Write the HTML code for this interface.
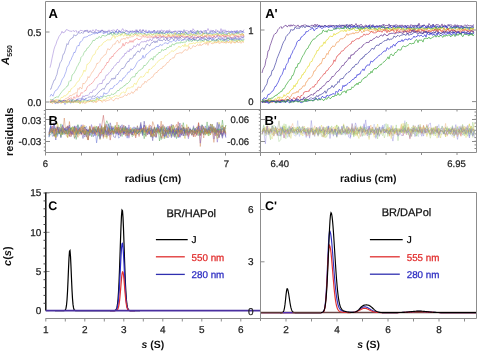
<!DOCTYPE html>
<html><head><meta charset="utf-8"><style>
html,body{margin:0;padding:0;background:#fff;}
body{width:478px;height:352px;overflow:hidden;}
svg{display:block;will-change:transform;}
text{font-family:"Liberation Sans",sans-serif;text-rendering:geometricPrecision;}
</style></head><body>
<svg width="478" height="352" viewBox="0 0 478 352">
<g fill="none" stroke="#8c8c8c" stroke-width="1">
<path d="M45.5,1.5H476.5V152.5H45.5Z"/>
<path d="M45.5,109.5H476.5"/>
<path d="M260.5,1.5V156"/>
<path d="M45.5,32H49.5M45.5,102H49.5"/>
<path d="M260.5,30H264.5M260.5,101.6H264.5"/>
<path d="M45.5,119.5H50M45.5,141.5H50"/>
<path d="M260.5,119.5H265M260.5,141.5H265M476.5,119.5H472M476.5,141.5H472M476.5,101.6H472M476.5,30H472"/>
<path d="M45.5,152.5V155.5M81.5,152.5V155.5M117.5,152.5V155.5M153.5,152.5V155.5M189.5,152.5V155.5M225.5,152.5V155.5"/>
<path d="M81.5,109.5V111.5M117.5,109.5V111.5M153.5,109.5V111.5M189.5,109.5V111.5M225.5,109.5V111.5"/>
<path d="M279.5,152.5V155M315.5,152.5V155M350.5,152.5V155M386.0,152.5V155M421.5,152.5V155M457.0,152.5V155"/>
<path d="M315.5,109.5V111.5M350.5,109.5V111.5M386.0,109.5V111.5M421.5,109.5V111.5M457.0,109.5V111.5"/>
</g>
<path d="M43.8,110.5H45.5M258.8,110.5H260.5M43.8,114.2H45.5M258.8,114.2H260.5M43.8,117.8H45.5M258.8,117.8H260.5M43.8,121.5H45.5M258.8,121.5H260.5M43.8,125.1H45.5M258.8,125.1H260.5M43.8,128.8H45.5M258.8,128.8H260.5M43.8,132.4H45.5M258.8,132.4H260.5M43.8,136.1H45.5M258.8,136.1H260.5M43.8,139.7H45.5M258.8,139.7H260.5M43.8,143.4H45.5M258.8,143.4H260.5M43.8,147.0H45.5M258.8,147.0H260.5M43.8,150.7H45.5M258.8,150.7H260.5" stroke="#8c8c8c" stroke-width="1" fill="none"/>
<path d="M474.5,112.0H476.5M474.5,115.7H476.5M474.5,119.3H476.5M474.5,123.0H476.5M474.5,126.6H476.5M474.5,130.3H476.5M474.5,133.9H476.5M474.5,137.6H476.5M474.5,141.2H476.5M474.5,144.9H476.5M474.5,148.5H476.5" stroke="#8c8c8c" stroke-width="1" fill="none"/>
<g><path d="M50.0,67.7 51.0,63.7 52.0,58.4 53.0,53.9 54.0,49.3 55.0,46.2 56.0,44.2 57.0,40.8 58.0,39.0 59.0,36.5 60.0,35.1 61.0,33.8 62.0,31.3 63.0,33.0 64.0,32.3 65.0,32.0 66.0,29.8 67.0,29.6 68.0,30.3 69.0,30.6 70.0,31.3 71.0,31.0 72.0,31.5 73.0,30.4 74.0,31.3 75.0,31.4 76.0,30.4 77.0,32.5 78.0,31.5 79.0,32.1 80.0,30.4 81.0,30.3 82.0,30.7 83.0,30.9 84.0,31.6 85.0,31.2 86.0,30.6 87.0,30.1 88.0,30.5 89.0,32.1 90.0,30.3 91.0,31.2 92.0,31.4 93.0,29.7 94.0,31.0 95.0,32.2 96.0,29.2 97.0,30.7 98.0,30.9 99.0,30.3 100.0,31.4 101.0,30.9 102.0,29.7 103.0,31.7 104.0,31.6 105.0,31.9 106.0,32.3 107.0,31.3 108.0,31.1 109.0,29.8 110.0,31.6 111.0,30.4 112.0,30.6 113.0,29.9 114.0,30.1 115.0,30.5 116.0,32.2 117.0,29.2 118.0,29.7 119.0,31.2 120.0,32.3 121.0,31.5 122.0,29.3 123.0,28.7 124.0,31.3 125.0,30.3 126.0,30.0 127.0,31.9 128.0,32.0 129.0,31.1 130.0,31.2 131.0,31.4 132.0,32.4 133.0,31.6 134.0,31.5 135.0,31.5 136.0,29.6 137.0,32.2 138.0,31.9 139.0,31.5 140.0,29.2 141.0,30.4 142.0,31.8 143.0,29.4 144.0,30.8 145.0,31.9 146.0,29.8 147.0,32.4 148.0,31.5 149.0,30.9 150.0,31.3 151.0,31.6 152.0,31.1 153.0,32.0 154.0,30.4 155.0,30.6 156.0,31.9 157.0,31.0 158.0,30.2 159.0,31.9 160.0,32.3 161.0,30.6 162.0,29.8 163.0,30.9 164.0,30.9 165.0,30.7 166.0,32.3 167.0,30.1 168.0,32.1 169.0,29.9 170.0,30.3 171.0,31.6 172.0,32.0 173.0,31.8 174.0,31.3 175.0,31.1 176.0,31.1 177.0,31.5 178.0,30.8 179.0,31.2 180.0,31.5 181.0,31.0 182.0,31.7 183.0,31.5 184.0,32.8 185.0,31.3 186.0,30.6 187.0,30.7 188.0,31.0 189.0,31.8 190.0,30.7 191.0,31.3 192.0,32.7 193.0,28.7 194.0,30.0 195.0,31.2 196.0,31.4 197.0,31.2 198.0,30.6 199.0,31.6 200.0,31.3 201.0,30.5 202.0,33.2 203.0,31.3 204.0,30.5 205.0,30.9 206.0,30.8 207.0,30.9 208.0,28.5 209.0,30.6 210.0,31.9 211.0,29.9 212.0,30.9 213.0,31.9 214.0,31.8 215.0,32.3 216.0,29.5 217.0,30.7 218.0,30.7 219.0,31.6 220.0,32.0 221.0,28.6 222.0,32.0 223.0,29.7 224.0,31.6 225.0,29.7 226.0,31.2 227.0,32.1 228.0,30.9 229.0,31.2 230.0,31.7 231.0,31.1 232.0,30.9 233.0,32.4 234.0,31.9 235.0,30.7 236.0,33.5 237.0,30.0 238.0,31.8 239.0,30.8 240.0,31.1 241.0,31.6 242.0,31.2 243.0,31.6 244.0,29.6" fill="none" stroke="#8a6ad0" stroke-opacity="0.55" stroke-width="0.85"/><path d="M50.0,89.2 51.0,89.1 52.0,85.5 53.0,83.1 54.0,80.2 55.0,79.9 56.0,76.6 57.0,74.3 58.0,69.2 59.0,67.0 60.0,62.9 61.0,61.6 62.0,59.4 63.0,54.4 64.0,53.9 65.0,50.8 66.0,47.4 67.0,43.6 68.0,44.7 69.0,41.5 70.0,39.5 71.0,39.0 72.0,37.8 73.0,37.8 74.0,34.6 75.0,35.8 76.0,35.5 77.0,35.0 78.0,33.1 79.0,32.3 80.0,33.6 81.0,32.6 82.0,32.5 83.0,33.5 84.0,31.9 85.0,30.0 86.0,31.7 87.0,30.4 88.0,32.7 89.0,32.3 90.0,31.4 91.0,32.0 92.0,32.7 93.0,32.0 94.0,33.1 95.0,31.9 96.0,32.9 97.0,33.3 98.0,33.4 99.0,31.3 100.0,32.7 101.0,30.3 102.0,31.0 103.0,30.2 104.0,32.9 105.0,30.8 106.0,31.9 107.0,31.8 108.0,31.9 109.0,31.4 110.0,32.2 111.0,33.6 112.0,32.0 113.0,32.4 114.0,32.9 115.0,31.8 116.0,30.8 117.0,31.5 118.0,32.9 119.0,30.5 120.0,31.4 121.0,32.9 122.0,32.7 123.0,32.0 124.0,32.7 125.0,32.1 126.0,30.9 127.0,30.5 128.0,31.4 129.0,32.8 130.0,31.4 131.0,31.1 132.0,31.3 133.0,30.6 134.0,31.8 135.0,30.9 136.0,32.3 137.0,29.8 138.0,32.2 139.0,31.4 140.0,30.2 141.0,32.6 142.0,31.7 143.0,29.9 144.0,31.2 145.0,32.2 146.0,31.5 147.0,32.7 148.0,32.6 149.0,32.5 150.0,32.2 151.0,33.2 152.0,32.5 153.0,32.4 154.0,30.1 155.0,32.8 156.0,33.1 157.0,31.7 158.0,31.5 159.0,33.7 160.0,30.4 161.0,32.4 162.0,34.1 163.0,31.1 164.0,32.6 165.0,33.6 166.0,31.8 167.0,32.5 168.0,32.8 169.0,31.1 170.0,31.9 171.0,32.2 172.0,32.7 173.0,31.9 174.0,31.8 175.0,31.0 176.0,31.6 177.0,32.8 178.0,32.0 179.0,31.2 180.0,31.2 181.0,34.4 182.0,33.0 183.0,32.5 184.0,29.6 185.0,32.5 186.0,32.4 187.0,33.5 188.0,32.3 189.0,31.9 190.0,32.4 191.0,30.2 192.0,32.9 193.0,32.2 194.0,31.3 195.0,33.1 196.0,33.6 197.0,30.7 198.0,31.4 199.0,32.2 200.0,32.1 201.0,31.6 202.0,31.1 203.0,33.9 204.0,32.9 205.0,30.9 206.0,30.7 207.0,33.5 208.0,32.8 209.0,33.6 210.0,32.7 211.0,31.2 212.0,32.2 213.0,30.0 214.0,31.3 215.0,31.9 216.0,32.4 217.0,31.3 218.0,31.8 219.0,32.4 220.0,32.3 221.0,32.5 222.0,32.1 223.0,31.7 224.0,32.7 225.0,32.0 226.0,31.2 227.0,31.4 228.0,31.9 229.0,31.9 230.0,32.1 231.0,31.9 232.0,32.1 233.0,31.8 234.0,30.8 235.0,32.3 236.0,32.9 237.0,32.3 238.0,31.8 239.0,32.4 240.0,31.1 241.0,30.2 242.0,32.0 243.0,31.1 244.0,32.6" fill="none" stroke="#5a5ab8" stroke-opacity="0.55" stroke-width="0.85"/><path d="M50.0,96.6 51.0,94.4 52.0,94.9 53.0,96.2 54.0,93.3 55.0,91.1 56.0,90.2 57.0,89.9 58.0,88.2 59.0,86.1 60.0,85.4 61.0,82.7 62.0,79.9 63.0,78.3 64.0,77.0 65.0,74.1 66.0,71.7 67.0,67.4 68.0,65.9 69.0,64.3 70.0,61.0 71.0,59.9 72.0,57.2 73.0,55.3 74.0,52.2 75.0,52.7 76.0,49.7 77.0,46.6 78.0,45.3 79.0,46.0 80.0,42.0 81.0,41.8 82.0,40.8 83.0,38.9 84.0,37.0 85.0,37.4 86.0,36.8 87.0,36.9 88.0,36.1 89.0,35.0 90.0,35.4 91.0,34.8 92.0,34.2 93.0,33.8 94.0,33.4 95.0,34.1 96.0,32.4 97.0,32.7 98.0,33.2 99.0,31.8 100.0,32.7 101.0,31.2 102.0,32.4 103.0,33.5 104.0,33.5 105.0,32.9 106.0,32.7 107.0,31.6 108.0,34.6 109.0,33.4 110.0,33.9 111.0,32.1 112.0,32.7 113.0,31.3 114.0,33.6 115.0,33.7 116.0,31.2 117.0,32.9 118.0,33.5 119.0,31.3 120.0,31.3 121.0,31.9 122.0,32.3 123.0,31.6 124.0,32.9 125.0,33.1 126.0,33.5 127.0,33.5 128.0,34.3 129.0,33.9 130.0,31.7 131.0,32.4 132.0,31.9 133.0,31.9 134.0,32.8 135.0,32.9 136.0,33.3 137.0,31.5 138.0,31.8 139.0,32.9 140.0,32.7 141.0,32.6 142.0,32.8 143.0,32.2 144.0,33.5 145.0,33.2 146.0,32.8 147.0,32.3 148.0,32.7 149.0,30.5 150.0,32.0 151.0,32.9 152.0,31.5 153.0,33.1 154.0,33.0 155.0,31.7 156.0,32.7 157.0,32.6 158.0,33.3 159.0,33.5 160.0,32.9 161.0,32.1 162.0,32.8 163.0,32.8 164.0,33.6 165.0,33.2 166.0,32.2 167.0,31.7 168.0,32.6 169.0,32.2 170.0,31.9 171.0,32.8 172.0,32.5 173.0,33.0 174.0,33.4 175.0,32.5 176.0,35.0 177.0,32.6 178.0,33.9 179.0,33.0 180.0,33.9 181.0,30.8 182.0,32.2 183.0,33.1 184.0,33.4 185.0,35.0 186.0,33.2 187.0,34.1 188.0,33.6 189.0,33.8 190.0,33.4 191.0,32.8 192.0,33.4 193.0,31.9 194.0,34.0 195.0,32.0 196.0,33.1 197.0,34.8 198.0,32.7 199.0,32.9 200.0,33.9 201.0,32.9 202.0,32.2 203.0,33.1 204.0,33.4 205.0,33.5 206.0,32.2 207.0,34.5 208.0,34.4 209.0,32.9 210.0,33.1 211.0,32.5 212.0,34.2 213.0,32.3 214.0,33.5 215.0,32.5 216.0,32.3 217.0,33.5 218.0,34.1 219.0,32.9 220.0,32.3 221.0,33.6 222.0,32.9 223.0,33.2 224.0,34.3 225.0,33.9 226.0,32.4 227.0,35.0 228.0,32.9 229.0,33.6 230.0,32.3 231.0,32.9 232.0,31.3 233.0,34.5 234.0,34.1 235.0,31.8 236.0,31.5 237.0,31.4 238.0,34.0 239.0,32.5 240.0,32.8 241.0,32.6 242.0,32.8 243.0,31.9 244.0,32.9" fill="none" stroke="#5a6ae8" stroke-opacity="0.55" stroke-width="0.85"/><path d="M50.0,99.0 51.0,99.9 52.0,99.8 53.0,99.6 54.0,98.5 55.0,97.3 56.0,97.7 57.0,96.4 58.0,97.5 59.0,95.9 60.0,94.2 61.0,92.9 62.0,91.6 63.0,90.2 64.0,89.5 65.0,88.7 66.0,87.5 67.0,86.0 68.0,85.8 69.0,81.6 70.0,80.5 71.0,81.1 72.0,75.1 73.0,74.4 74.0,73.1 75.0,71.1 76.0,69.3 77.0,66.7 78.0,65.3 79.0,63.0 80.0,61.7 81.0,57.4 82.0,56.4 83.0,55.4 84.0,52.7 85.0,51.0 86.0,50.9 87.0,48.2 88.0,48.0 89.0,46.7 90.0,45.0 91.0,44.1 92.0,42.4 93.0,40.2 94.0,40.6 95.0,40.2 96.0,38.5 97.0,38.2 98.0,38.4 99.0,36.4 100.0,37.3 101.0,38.0 102.0,35.4 103.0,35.7 104.0,35.2 105.0,36.5 106.0,35.2 107.0,35.5 108.0,33.9 109.0,34.4 110.0,34.3 111.0,32.6 112.0,35.5 113.0,34.9 114.0,32.5 115.0,34.7 116.0,33.9 117.0,34.4 118.0,34.3 119.0,32.6 120.0,33.7 121.0,35.2 122.0,33.4 123.0,33.0 124.0,32.6 125.0,32.8 126.0,34.2 127.0,35.4 128.0,34.2 129.0,34.1 130.0,35.9 131.0,33.4 132.0,33.2 133.0,34.3 134.0,34.3 135.0,32.9 136.0,32.8 137.0,34.1 138.0,34.1 139.0,32.7 140.0,33.7 141.0,33.4 142.0,34.3 143.0,33.7 144.0,33.8 145.0,33.5 146.0,34.8 147.0,35.1 148.0,33.5 149.0,34.6 150.0,33.2 151.0,33.9 152.0,34.5 153.0,35.2 154.0,33.5 155.0,33.8 156.0,34.0 157.0,32.5 158.0,33.9 159.0,33.2 160.0,34.2 161.0,32.8 162.0,32.1 163.0,33.9 164.0,34.1 165.0,33.4 166.0,34.6 167.0,33.6 168.0,33.3 169.0,34.3 170.0,32.4 171.0,33.2 172.0,33.8 173.0,34.6 174.0,33.7 175.0,34.1 176.0,33.3 177.0,34.1 178.0,35.3 179.0,33.2 180.0,36.0 181.0,33.3 182.0,33.9 183.0,34.0 184.0,34.8 185.0,32.7 186.0,32.0 187.0,34.4 188.0,34.6 189.0,34.4 190.0,36.2 191.0,34.0 192.0,34.1 193.0,34.7 194.0,34.2 195.0,35.3 196.0,32.7 197.0,33.5 198.0,30.7 199.0,34.6 200.0,33.5 201.0,34.7 202.0,35.8 203.0,33.8 204.0,33.6 205.0,33.4 206.0,33.1 207.0,33.3 208.0,34.4 209.0,33.9 210.0,33.9 211.0,33.7 212.0,34.7 213.0,34.3 214.0,33.7 215.0,34.4 216.0,33.7 217.0,32.8 218.0,35.2 219.0,34.3 220.0,33.0 221.0,34.8 222.0,34.2 223.0,32.4 224.0,35.3 225.0,34.2 226.0,34.7 227.0,34.0 228.0,33.7 229.0,32.5 230.0,34.7 231.0,33.9 232.0,33.6 233.0,34.2 234.0,33.9 235.0,34.5 236.0,33.5 237.0,33.8 238.0,31.9 239.0,33.5 240.0,34.5 241.0,35.1 242.0,33.5 243.0,33.7 244.0,35.3" fill="none" stroke="#60c060" stroke-opacity="0.55" stroke-width="0.85"/><path d="M50.0,101.0 51.0,101.8 52.0,102.5 53.0,100.8 54.0,101.7 55.0,99.7 56.0,100.3 57.0,99.7 58.0,99.6 59.0,100.1 60.0,100.8 61.0,97.6 62.0,97.2 63.0,97.5 64.0,95.5 65.0,96.2 66.0,95.6 67.0,94.0 68.0,93.8 69.0,91.0 70.0,92.1 71.0,88.9 72.0,88.6 73.0,87.5 74.0,86.3 75.0,86.1 76.0,84.0 77.0,82.2 78.0,81.5 79.0,80.9 80.0,77.9 81.0,76.5 82.0,75.7 83.0,73.1 84.0,70.0 85.0,71.7 86.0,69.7 87.0,64.2 88.0,64.2 89.0,63.0 90.0,61.8 91.0,59.9 92.0,57.4 93.0,55.2 94.0,54.7 95.0,54.1 96.0,50.7 97.0,49.4 98.0,49.1 99.0,46.1 100.0,46.5 101.0,45.2 102.0,45.0 103.0,43.0 104.0,42.0 105.0,41.6 106.0,41.1 107.0,39.9 108.0,39.8 109.0,39.9 110.0,39.8 111.0,39.8 112.0,37.1 113.0,37.0 114.0,34.8 115.0,38.5 116.0,35.8 117.0,36.2 118.0,36.5 119.0,34.6 120.0,36.1 121.0,35.5 122.0,33.8 123.0,35.6 124.0,36.3 125.0,33.5 126.0,35.8 127.0,35.2 128.0,35.4 129.0,35.4 130.0,36.1 131.0,34.7 132.0,35.7 133.0,34.5 134.0,35.5 135.0,34.1 136.0,34.7 137.0,36.4 138.0,35.2 139.0,34.7 140.0,33.8 141.0,34.1 142.0,35.0 143.0,35.7 144.0,35.2 145.0,35.3 146.0,34.8 147.0,36.0 148.0,34.5 149.0,34.3 150.0,35.6 151.0,34.9 152.0,34.5 153.0,34.3 154.0,34.6 155.0,35.4 156.0,35.1 157.0,33.7 158.0,35.2 159.0,35.0 160.0,33.9 161.0,35.5 162.0,34.5 163.0,34.5 164.0,35.5 165.0,36.0 166.0,34.2 167.0,35.2 168.0,34.0 169.0,36.9 170.0,34.4 171.0,35.9 172.0,34.2 173.0,35.5 174.0,36.8 175.0,32.5 176.0,34.4 177.0,35.3 178.0,34.7 179.0,34.2 180.0,36.7 181.0,34.9 182.0,33.3 183.0,35.6 184.0,33.3 185.0,35.8 186.0,34.3 187.0,34.9 188.0,35.9 189.0,34.9 190.0,33.5 191.0,33.3 192.0,35.9 193.0,35.5 194.0,34.1 195.0,35.6 196.0,35.2 197.0,35.4 198.0,32.8 199.0,34.5 200.0,35.6 201.0,35.5 202.0,35.6 203.0,32.6 204.0,35.0 205.0,35.2 206.0,37.1 207.0,33.9 208.0,34.5 209.0,34.8 210.0,35.6 211.0,34.4 212.0,35.8 213.0,34.1 214.0,35.0 215.0,34.3 216.0,34.9 217.0,34.2 218.0,33.4 219.0,35.8 220.0,35.1 221.0,34.3 222.0,35.0 223.0,35.7 224.0,33.9 225.0,34.7 226.0,35.3 227.0,35.3 228.0,34.5 229.0,32.9 230.0,35.9 231.0,35.1 232.0,34.8 233.0,34.5 234.0,35.0 235.0,34.4 236.0,33.9 237.0,34.1 238.0,34.3 239.0,34.2 240.0,33.8 241.0,35.4 242.0,33.6 243.0,35.4 244.0,33.9" fill="none" stroke="#f0e050" stroke-opacity="0.55" stroke-width="0.85"/><path d="M50.0,102.0 51.0,102.8 52.0,101.7 53.0,100.8 54.0,101.4 55.0,101.4 56.0,99.6 57.0,100.4 58.0,101.0 59.0,100.2 60.0,100.5 61.0,100.9 62.0,100.7 63.0,100.5 64.0,99.9 65.0,98.8 66.0,98.7 67.0,98.0 68.0,97.5 69.0,97.2 70.0,95.2 71.0,95.9 72.0,95.6 73.0,94.0 74.0,94.1 75.0,93.8 76.0,92.4 77.0,93.5 78.0,88.4 79.0,89.5 80.0,87.0 81.0,88.4 82.0,88.8 83.0,83.0 84.0,84.1 85.0,83.1 86.0,81.1 87.0,80.5 88.0,76.5 89.0,77.9 90.0,76.0 91.0,74.2 92.0,72.1 93.0,71.7 94.0,69.2 95.0,68.3 96.0,66.1 97.0,63.1 98.0,63.5 99.0,62.3 100.0,61.3 101.0,58.4 102.0,57.8 103.0,57.0 104.0,55.2 105.0,54.9 106.0,54.3 107.0,50.5 108.0,48.5 109.0,49.9 110.0,49.4 111.0,47.9 112.0,46.8 113.0,44.7 114.0,43.7 115.0,44.4 116.0,42.0 117.0,40.5 118.0,40.6 119.0,43.2 120.0,42.2 121.0,39.3 122.0,38.8 123.0,39.3 124.0,38.0 125.0,39.5 126.0,38.0 127.0,36.8 128.0,38.7 129.0,36.8 130.0,37.3 131.0,36.9 132.0,36.5 133.0,36.9 134.0,35.9 135.0,34.7 136.0,34.3 137.0,35.1 138.0,35.5 139.0,36.1 140.0,36.1 141.0,36.5 142.0,36.1 143.0,35.2 144.0,35.3 145.0,34.0 146.0,35.7 147.0,36.3 148.0,36.3 149.0,35.7 150.0,35.6 151.0,36.6 152.0,35.8 153.0,36.4 154.0,36.3 155.0,36.0 156.0,36.9 157.0,35.2 158.0,35.4 159.0,35.0 160.0,35.0 161.0,37.2 162.0,37.3 163.0,35.8 164.0,36.3 165.0,36.8 166.0,36.5 167.0,36.8 168.0,34.6 169.0,35.2 170.0,36.2 171.0,37.0 172.0,35.8 173.0,35.0 174.0,35.4 175.0,35.2 176.0,35.0 177.0,37.1 178.0,35.2 179.0,35.8 180.0,37.7 181.0,36.8 182.0,36.1 183.0,35.2 184.0,36.1 185.0,37.2 186.0,36.3 187.0,36.9 188.0,35.8 189.0,36.2 190.0,35.6 191.0,36.1 192.0,36.9 193.0,34.5 194.0,35.7 195.0,36.0 196.0,35.2 197.0,35.5 198.0,36.5 199.0,37.6 200.0,36.3 201.0,36.0 202.0,34.4 203.0,37.5 204.0,35.8 205.0,35.7 206.0,34.7 207.0,35.7 208.0,34.8 209.0,35.8 210.0,36.2 211.0,35.8 212.0,36.0 213.0,35.0 214.0,37.0 215.0,35.2 216.0,34.1 217.0,35.6 218.0,35.1 219.0,34.8 220.0,35.4 221.0,36.0 222.0,34.7 223.0,35.6 224.0,37.0 225.0,36.4 226.0,35.6 227.0,35.9 228.0,35.6 229.0,35.7 230.0,36.4 231.0,35.7 232.0,33.6 233.0,35.7 234.0,34.9 235.0,36.3 236.0,35.2 237.0,35.9 238.0,37.7 239.0,34.8 240.0,34.7 241.0,34.5 242.0,33.6 243.0,34.1 244.0,36.1" fill="none" stroke="#f5a070" stroke-opacity="0.55" stroke-width="0.85"/><path d="M50.0,101.2 51.0,100.1 52.0,100.4 53.0,102.3 54.0,101.0 55.0,101.3 56.0,101.8 57.0,102.7 58.0,103.1 59.0,102.2 60.0,101.3 61.0,101.2 62.0,102.6 63.0,102.1 64.0,100.3 65.0,100.9 66.0,100.5 67.0,100.1 68.0,99.3 69.0,98.3 70.0,98.7 71.0,97.5 72.0,99.6 73.0,98.6 74.0,96.6 75.0,98.5 76.0,97.5 77.0,94.5 78.0,97.3 79.0,95.7 80.0,96.2 81.0,92.5 82.0,93.4 83.0,92.5 84.0,91.5 85.0,90.6 86.0,90.4 87.0,87.2 88.0,86.4 89.0,85.2 90.0,84.9 91.0,83.7 92.0,83.4 93.0,82.1 94.0,80.7 95.0,78.8 96.0,77.7 97.0,77.7 98.0,76.2 99.0,74.2 100.0,72.5 101.0,72.8 102.0,69.5 103.0,69.2 104.0,68.3 105.0,65.7 106.0,65.3 107.0,62.2 108.0,62.8 109.0,60.8 110.0,57.9 111.0,58.6 112.0,56.0 113.0,56.8 114.0,53.8 115.0,53.2 116.0,52.5 117.0,50.9 118.0,50.4 119.0,48.7 120.0,48.9 121.0,47.4 122.0,46.8 123.0,43.3 124.0,46.1 125.0,44.4 126.0,42.1 127.0,43.2 128.0,42.9 129.0,42.9 130.0,40.5 131.0,42.4 132.0,40.5 133.0,42.4 134.0,39.7 135.0,40.1 136.0,38.9 137.0,37.9 138.0,39.7 139.0,39.3 140.0,39.6 141.0,38.8 142.0,37.4 143.0,36.3 144.0,37.0 145.0,36.9 146.0,36.7 147.0,37.8 148.0,37.5 149.0,36.9 150.0,37.3 151.0,36.9 152.0,37.2 153.0,37.6 154.0,37.8 155.0,36.3 156.0,35.5 157.0,38.1 158.0,36.9 159.0,37.8 160.0,35.3 161.0,36.5 162.0,36.8 163.0,35.4 164.0,36.3 165.0,37.4 166.0,37.7 167.0,38.2 168.0,35.9 169.0,35.5 170.0,37.2 171.0,37.6 172.0,36.9 173.0,35.5 174.0,37.4 175.0,37.4 176.0,37.2 177.0,36.3 178.0,37.0 179.0,37.4 180.0,36.2 181.0,35.0 182.0,37.0 183.0,37.1 184.0,36.7 185.0,37.5 186.0,36.2 187.0,36.6 188.0,36.4 189.0,37.2 190.0,38.1 191.0,36.5 192.0,38.5 193.0,38.1 194.0,37.4 195.0,37.2 196.0,38.3 197.0,36.5 198.0,36.6 199.0,35.7 200.0,37.1 201.0,37.9 202.0,37.2 203.0,37.1 204.0,36.5 205.0,36.9 206.0,35.4 207.0,37.6 208.0,36.3 209.0,35.7 210.0,36.0 211.0,36.0 212.0,37.5 213.0,37.7 214.0,35.5 215.0,37.5 216.0,37.5 217.0,36.2 218.0,35.4 219.0,36.0 220.0,36.1 221.0,37.0 222.0,36.4 223.0,34.9 224.0,36.9 225.0,35.3 226.0,37.5 227.0,35.6 228.0,36.1 229.0,35.9 230.0,36.2 231.0,37.9 232.0,37.5 233.0,37.2 234.0,37.0 235.0,35.3 236.0,36.2 237.0,36.2 238.0,35.8 239.0,37.2 240.0,36.0 241.0,36.1 242.0,35.8 243.0,34.8 244.0,37.2" fill="none" stroke="#f06868" stroke-opacity="0.55" stroke-width="0.85"/><path d="M50.0,103.1 51.0,102.1 52.0,101.0 53.0,99.4 54.0,102.0 55.0,102.9 56.0,102.1 57.0,102.6 58.0,103.1 59.0,102.7 60.0,101.2 61.0,102.5 62.0,102.2 63.0,100.1 64.0,101.0 65.0,100.0 66.0,101.1 67.0,101.6 68.0,100.0 69.0,99.0 70.0,101.9 71.0,100.9 72.0,101.7 73.0,99.0 74.0,100.9 75.0,101.6 76.0,101.2 77.0,99.0 78.0,99.1 79.0,98.4 80.0,99.0 81.0,98.7 82.0,97.4 83.0,95.7 84.0,97.1 85.0,95.5 86.0,95.9 87.0,95.0 88.0,95.6 89.0,94.5 90.0,92.4 91.0,92.3 92.0,92.9 93.0,90.0 94.0,90.0 95.0,89.8 96.0,88.9 97.0,87.3 98.0,84.7 99.0,83.7 100.0,84.0 101.0,83.1 102.0,83.9 103.0,79.7 104.0,80.3 105.0,78.8 106.0,75.4 107.0,75.0 108.0,74.6 109.0,72.8 110.0,71.8 111.0,71.1 112.0,68.7 113.0,68.6 114.0,66.4 115.0,65.2 116.0,64.9 117.0,62.7 118.0,62.3 119.0,62.3 120.0,59.7 121.0,58.4 122.0,58.0 123.0,56.0 124.0,56.2 125.0,53.0 126.0,53.7 127.0,51.8 128.0,50.6 129.0,52.0 130.0,48.8 131.0,50.3 132.0,48.5 133.0,48.5 134.0,45.6 135.0,46.9 136.0,46.5 137.0,44.4 138.0,43.9 139.0,45.7 140.0,43.1 141.0,42.1 142.0,41.5 143.0,42.1 144.0,41.6 145.0,41.1 146.0,42.2 147.0,40.0 148.0,40.5 149.0,41.1 150.0,38.7 151.0,40.3 152.0,40.8 153.0,37.8 154.0,37.9 155.0,37.8 156.0,36.9 157.0,38.9 158.0,36.7 159.0,38.8 160.0,39.5 161.0,36.7 162.0,37.8 163.0,36.3 164.0,38.7 165.0,37.3 166.0,37.7 167.0,37.9 168.0,38.3 169.0,37.5 170.0,37.8 171.0,37.3 172.0,37.9 173.0,36.7 174.0,37.8 175.0,36.0 176.0,37.3 177.0,39.4 178.0,37.8 179.0,36.5 180.0,37.9 181.0,36.8 182.0,36.2 183.0,37.0 184.0,38.3 185.0,38.0 186.0,37.6 187.0,36.8 188.0,36.7 189.0,38.9 190.0,37.9 191.0,36.8 192.0,35.8 193.0,36.4 194.0,39.9 195.0,36.6 196.0,37.6 197.0,37.8 198.0,37.5 199.0,37.4 200.0,36.4 201.0,36.7 202.0,39.2 203.0,37.0 204.0,38.4 205.0,36.1 206.0,37.4 207.0,37.9 208.0,38.6 209.0,36.6 210.0,38.2 211.0,38.0 212.0,37.0 213.0,38.1 214.0,36.8 215.0,36.9 216.0,37.6 217.0,35.2 218.0,37.6 219.0,36.7 220.0,36.3 221.0,37.3 222.0,38.3 223.0,37.3 224.0,38.8 225.0,36.6 226.0,36.5 227.0,39.0 228.0,38.0 229.0,38.5 230.0,36.9 231.0,38.4 232.0,37.9 233.0,38.2 234.0,37.7 235.0,38.7 236.0,37.1 237.0,36.8 238.0,36.3 239.0,38.7 240.0,37.0 241.0,36.7 242.0,36.8 243.0,37.2 244.0,36.5" fill="none" stroke="#8a6ad0" stroke-opacity="0.55" stroke-width="0.85"/><path d="M50.0,101.7 51.0,101.4 52.0,101.5 53.0,101.1 54.0,102.0 55.0,101.5 56.0,102.0 57.0,102.1 58.0,102.2 59.0,99.9 60.0,101.4 61.0,101.1 62.0,102.5 63.0,100.3 64.0,101.1 65.0,101.4 66.0,101.3 67.0,102.5 68.0,101.1 69.0,102.3 70.0,100.1 71.0,99.7 72.0,102.3 73.0,101.5 74.0,101.4 75.0,101.0 76.0,101.2 77.0,99.5 78.0,101.3 79.0,99.8 80.0,101.0 81.0,99.9 82.0,97.9 83.0,98.2 84.0,100.1 85.0,98.7 86.0,98.2 87.0,98.4 88.0,97.4 89.0,96.9 90.0,97.1 91.0,96.7 92.0,97.5 93.0,95.6 94.0,96.7 95.0,96.1 96.0,95.4 97.0,94.2 98.0,92.7 99.0,92.0 100.0,91.0 101.0,89.8 102.0,89.6 103.0,88.2 104.0,89.4 105.0,87.5 106.0,85.7 107.0,83.5 108.0,84.2 109.0,82.9 110.0,81.2 111.0,80.1 112.0,78.1 113.0,79.5 114.0,77.8 115.0,79.1 116.0,75.6 117.0,74.4 118.0,74.6 119.0,72.3 120.0,71.2 121.0,69.5 122.0,68.1 123.0,68.9 124.0,67.2 125.0,66.7 126.0,63.7 127.0,63.0 128.0,61.0 129.0,61.6 130.0,58.4 131.0,59.1 132.0,58.6 133.0,57.8 134.0,54.7 135.0,55.6 136.0,53.1 137.0,52.1 138.0,50.8 139.0,52.2 140.0,51.8 141.0,49.0 142.0,48.2 143.0,47.8 144.0,49.7 145.0,47.7 146.0,45.7 147.0,44.0 148.0,44.5 149.0,45.7 150.0,45.8 151.0,43.4 152.0,42.6 153.0,42.4 154.0,40.8 155.0,43.0 156.0,40.9 157.0,42.5 158.0,39.7 159.0,39.9 160.0,41.0 161.0,39.9 162.0,41.1 163.0,40.2 164.0,39.0 165.0,40.4 166.0,40.5 167.0,37.9 168.0,41.1 169.0,39.9 170.0,40.0 171.0,37.6 172.0,38.5 173.0,38.8 174.0,40.0 175.0,37.7 176.0,38.1 177.0,37.1 178.0,38.6 179.0,39.1 180.0,37.3 181.0,38.2 182.0,39.2 183.0,40.2 184.0,39.3 185.0,38.4 186.0,37.6 187.0,37.8 188.0,38.1 189.0,38.8 190.0,38.6 191.0,40.1 192.0,38.9 193.0,37.7 194.0,40.0 195.0,39.5 196.0,38.7 197.0,38.0 198.0,36.9 199.0,37.7 200.0,39.4 201.0,37.9 202.0,37.4 203.0,38.8 204.0,38.8 205.0,39.1 206.0,39.2 207.0,39.9 208.0,37.8 209.0,39.5 210.0,37.7 211.0,39.2 212.0,38.8 213.0,38.8 214.0,39.5 215.0,38.6 216.0,39.6 217.0,39.4 218.0,38.7 219.0,38.1 220.0,37.9 221.0,38.1 222.0,38.4 223.0,38.6 224.0,41.3 225.0,39.2 226.0,39.3 227.0,37.8 228.0,38.0 229.0,38.3 230.0,38.8 231.0,37.7 232.0,40.1 233.0,38.1 234.0,39.6 235.0,36.5 236.0,38.6 237.0,38.9 238.0,38.8 239.0,39.1 240.0,38.9 241.0,38.7 242.0,36.9 243.0,38.0 244.0,36.5" fill="none" stroke="#5a5ab8" stroke-opacity="0.55" stroke-width="0.85"/><path d="M50.0,102.6 51.0,102.3 52.0,101.8 53.0,101.2 54.0,101.4 55.0,103.6 56.0,103.5 57.0,101.9 58.0,103.1 59.0,100.5 60.0,100.2 61.0,101.5 62.0,101.1 63.0,101.4 64.0,102.0 65.0,104.6 66.0,101.2 67.0,101.9 68.0,102.0 69.0,101.7 70.0,102.6 71.0,103.3 72.0,100.5 73.0,101.8 74.0,101.3 75.0,101.8 76.0,100.1 77.0,99.8 78.0,99.2 79.0,101.7 80.0,101.3 81.0,101.1 82.0,98.8 83.0,100.4 84.0,99.9 85.0,99.2 86.0,99.5 87.0,100.8 88.0,100.4 89.0,99.7 90.0,100.0 91.0,98.7 92.0,99.0 93.0,98.7 94.0,98.9 95.0,98.0 96.0,97.6 97.0,97.2 98.0,96.4 99.0,98.5 100.0,96.5 101.0,96.0 102.0,97.1 103.0,95.8 104.0,92.6 105.0,94.0 106.0,93.5 107.0,93.8 108.0,92.6 109.0,91.4 110.0,88.9 111.0,88.5 112.0,88.7 113.0,88.1 114.0,85.9 115.0,85.6 116.0,84.6 117.0,84.1 118.0,83.4 119.0,81.9 120.0,80.1 121.0,81.3 122.0,80.6 123.0,78.0 124.0,78.0 125.0,76.4 126.0,75.5 127.0,74.3 128.0,72.1 129.0,72.2 130.0,71.5 131.0,68.7 132.0,70.1 133.0,69.2 134.0,67.8 135.0,66.9 136.0,64.7 137.0,62.7 138.0,61.4 139.0,60.2 140.0,60.1 141.0,59.0 142.0,58.6 143.0,55.3 144.0,58.3 145.0,57.3 146.0,54.4 147.0,54.2 148.0,53.2 149.0,52.2 150.0,51.1 151.0,50.4 152.0,49.1 153.0,49.3 154.0,48.5 155.0,48.2 156.0,46.6 157.0,46.8 158.0,46.3 159.0,46.3 160.0,44.4 161.0,45.2 162.0,45.3 163.0,44.6 164.0,43.4 165.0,42.9 166.0,42.8 167.0,43.4 168.0,43.9 169.0,42.1 170.0,41.4 171.0,42.1 172.0,41.7 173.0,40.5 174.0,40.5 175.0,40.9 176.0,41.5 177.0,39.7 178.0,39.7 179.0,41.0 180.0,39.3 181.0,40.4 182.0,40.5 183.0,40.1 184.0,39.2 185.0,40.0 186.0,39.7 187.0,40.2 188.0,39.1 189.0,40.8 190.0,38.3 191.0,39.6 192.0,39.8 193.0,40.6 194.0,39.2 195.0,40.2 196.0,39.2 197.0,40.3 198.0,41.2 199.0,39.3 200.0,40.0 201.0,38.8 202.0,40.5 203.0,40.7 204.0,39.6 205.0,38.6 206.0,39.9 207.0,40.6 208.0,40.5 209.0,40.3 210.0,37.9 211.0,38.9 212.0,40.8 213.0,38.5 214.0,40.6 215.0,41.2 216.0,40.2 217.0,40.6 218.0,39.3 219.0,38.4 220.0,39.5 221.0,39.4 222.0,39.5 223.0,40.2 224.0,39.4 225.0,39.7 226.0,39.9 227.0,39.5 228.0,41.2 229.0,39.9 230.0,39.6 231.0,39.4 232.0,39.0 233.0,40.8 234.0,39.7 235.0,38.6 236.0,39.0 237.0,39.4 238.0,39.1 239.0,40.5 240.0,38.5 241.0,40.0 242.0,39.7 243.0,38.5 244.0,39.6" fill="none" stroke="#5a6ae8" stroke-opacity="0.55" stroke-width="0.85"/><path d="M50.0,101.9 51.0,102.4 52.0,101.6 53.0,102.3 54.0,100.5 55.0,101.0 56.0,102.7 57.0,102.9 58.0,102.0 59.0,101.4 60.0,102.9 61.0,100.1 62.0,101.2 63.0,102.6 64.0,102.5 65.0,101.0 66.0,100.2 67.0,103.2 68.0,102.1 69.0,101.1 70.0,101.9 71.0,102.7 72.0,99.5 73.0,102.8 74.0,102.5 75.0,99.9 76.0,102.5 77.0,100.1 78.0,102.7 79.0,102.0 80.0,103.6 81.0,101.0 82.0,101.5 83.0,102.4 84.0,100.8 85.0,100.7 86.0,100.9 87.0,101.1 88.0,100.1 89.0,101.4 90.0,101.3 91.0,100.8 92.0,102.1 93.0,100.1 94.0,101.4 95.0,99.6 96.0,100.5 97.0,97.9 98.0,99.6 99.0,99.0 100.0,98.5 101.0,98.1 102.0,98.0 103.0,97.4 104.0,95.7 105.0,96.8 106.0,96.5 107.0,96.1 108.0,95.2 109.0,95.6 110.0,95.9 111.0,94.5 112.0,93.7 113.0,94.8 114.0,93.9 115.0,93.3 116.0,92.8 117.0,90.9 118.0,90.3 119.0,90.7 120.0,88.5 121.0,88.1 122.0,87.8 123.0,87.0 124.0,85.6 125.0,85.8 126.0,83.9 127.0,83.8 128.0,83.2 129.0,81.9 130.0,81.0 131.0,78.3 132.0,77.2 133.0,76.8 134.0,76.8 135.0,76.7 136.0,73.2 137.0,73.6 138.0,71.5 139.0,70.6 140.0,70.0 141.0,69.8 142.0,68.3 143.0,68.2 144.0,65.2 145.0,65.9 146.0,64.9 147.0,63.2 148.0,62.6 149.0,60.7 150.0,59.3 151.0,59.0 152.0,57.9 153.0,60.2 154.0,56.3 155.0,57.3 156.0,55.2 157.0,54.5 158.0,54.2 159.0,52.1 160.0,52.9 161.0,51.7 162.0,49.3 163.0,50.6 164.0,50.0 165.0,49.3 166.0,49.7 167.0,47.4 168.0,47.8 169.0,47.5 170.0,45.6 171.0,47.0 172.0,44.2 173.0,44.0 174.0,45.3 175.0,43.5 176.0,44.0 177.0,42.4 178.0,43.6 179.0,42.3 180.0,43.4 181.0,41.5 182.0,43.0 183.0,42.2 184.0,42.3 185.0,42.0 186.0,42.1 187.0,40.6 188.0,39.4 189.0,41.6 190.0,40.6 191.0,41.0 192.0,41.7 193.0,39.4 194.0,40.4 195.0,40.5 196.0,40.0 197.0,41.2 198.0,40.8 199.0,40.1 200.0,39.9 201.0,41.5 202.0,40.1 203.0,41.2 204.0,41.1 205.0,39.0 206.0,39.7 207.0,40.6 208.0,40.9 209.0,41.3 210.0,41.3 211.0,41.5 212.0,40.2 213.0,40.4 214.0,41.2 215.0,40.2 216.0,41.5 217.0,39.1 218.0,41.1 219.0,40.4 220.0,38.7 221.0,41.4 222.0,40.8 223.0,40.5 224.0,39.5 225.0,40.1 226.0,41.9 227.0,39.8 228.0,37.4 229.0,39.7 230.0,39.4 231.0,40.4 232.0,40.1 233.0,39.7 234.0,39.7 235.0,41.4 236.0,39.2 237.0,42.3 238.0,40.0 239.0,39.5 240.0,41.2 241.0,41.0 242.0,39.6 243.0,41.2 244.0,38.8" fill="none" stroke="#60c060" stroke-opacity="0.55" stroke-width="0.85"/><path d="M50.0,101.2 51.0,103.0 52.0,101.8 53.0,100.8 54.0,102.5 55.0,102.8 56.0,102.0 57.0,100.4 58.0,101.7 59.0,102.4 60.0,102.7 61.0,103.7 62.0,101.8 63.0,101.5 64.0,101.9 65.0,103.1 66.0,101.1 67.0,103.1 68.0,99.5 69.0,102.7 70.0,101.3 71.0,102.4 72.0,102.6 73.0,100.9 74.0,101.8 75.0,102.1 76.0,102.4 77.0,101.0 78.0,101.0 79.0,100.1 80.0,104.1 81.0,101.6 82.0,101.6 83.0,100.4 84.0,102.6 85.0,101.2 86.0,102.9 87.0,102.4 88.0,101.6 89.0,102.2 90.0,100.5 91.0,101.1 92.0,100.8 93.0,100.1 94.0,101.2 95.0,100.9 96.0,102.3 97.0,97.8 98.0,100.1 99.0,99.8 100.0,100.1 101.0,100.7 102.0,100.5 103.0,100.0 104.0,99.4 105.0,100.0 106.0,99.7 107.0,97.5 108.0,98.6 109.0,97.4 110.0,97.2 111.0,98.1 112.0,97.7 113.0,97.4 114.0,96.2 115.0,96.4 116.0,95.3 117.0,96.1 118.0,95.9 119.0,96.3 120.0,95.4 121.0,93.0 122.0,92.8 123.0,91.8 124.0,92.3 125.0,93.2 126.0,91.4 127.0,88.1 128.0,88.2 129.0,87.5 130.0,88.3 131.0,87.1 132.0,86.6 133.0,87.1 134.0,83.9 135.0,83.1 136.0,84.7 137.0,82.4 138.0,80.5 139.0,78.4 140.0,77.9 141.0,76.2 142.0,77.5 143.0,76.5 144.0,76.4 145.0,74.4 146.0,72.9 147.0,71.8 148.0,73.2 149.0,69.0 150.0,69.7 151.0,68.6 152.0,68.2 153.0,66.3 154.0,66.1 155.0,65.4 156.0,63.6 157.0,62.4 158.0,61.8 159.0,60.2 160.0,60.0 161.0,59.0 162.0,58.6 163.0,58.8 164.0,58.0 165.0,55.6 166.0,55.8 167.0,54.8 168.0,54.5 169.0,53.2 170.0,52.7 171.0,51.4 172.0,50.5 173.0,51.4 174.0,51.2 175.0,50.1 176.0,49.4 177.0,48.7 178.0,47.6 179.0,46.0 180.0,47.7 181.0,46.9 182.0,45.9 183.0,45.1 184.0,46.8 185.0,43.7 186.0,46.6 187.0,45.3 188.0,46.6 189.0,43.6 190.0,44.0 191.0,43.3 192.0,43.7 193.0,43.2 194.0,42.6 195.0,44.0 196.0,42.2 197.0,42.3 198.0,43.2 199.0,42.1 200.0,42.1 201.0,42.7 202.0,41.9 203.0,41.1 204.0,42.0 205.0,41.8 206.0,43.5 207.0,40.9 208.0,42.7 209.0,41.1 210.0,41.5 211.0,41.5 212.0,42.0 213.0,42.5 214.0,43.2 215.0,41.1 216.0,42.8 217.0,42.5 218.0,42.3 219.0,40.9 220.0,42.4 221.0,41.4 222.0,41.8 223.0,41.3 224.0,42.1 225.0,42.5 226.0,42.5 227.0,41.3 228.0,42.4 229.0,42.8 230.0,40.6 231.0,42.8 232.0,40.3 233.0,42.0 234.0,42.0 235.0,42.8 236.0,41.7 237.0,41.0 238.0,40.7 239.0,40.3 240.0,42.1 241.0,41.2 242.0,40.8 243.0,41.9 244.0,40.8" fill="none" stroke="#f0e050" stroke-opacity="0.55" stroke-width="0.85"/><path d="M50.0,101.6 51.0,101.6 52.0,103.5 53.0,103.3 54.0,101.9 55.0,100.6 56.0,102.2 57.0,102.1 58.0,102.3 59.0,102.5 60.0,101.7 61.0,102.8 62.0,102.7 63.0,102.2 64.0,101.6 65.0,101.6 66.0,102.6 67.0,101.0 68.0,101.8 69.0,101.3 70.0,100.7 71.0,102.5 72.0,102.0 73.0,102.0 74.0,102.8 75.0,100.6 76.0,101.9 77.0,102.2 78.0,102.7 79.0,101.0 80.0,102.6 81.0,102.1 82.0,103.1 83.0,102.9 84.0,102.4 85.0,103.8 86.0,101.9 87.0,101.5 88.0,101.5 89.0,100.9 90.0,101.7 91.0,100.0 92.0,101.6 93.0,102.1 94.0,102.5 95.0,101.3 96.0,102.8 97.0,100.9 98.0,101.3 99.0,99.7 100.0,100.6 101.0,100.5 102.0,102.4 103.0,101.5 104.0,100.0 105.0,101.3 106.0,101.1 107.0,100.4 108.0,100.5 109.0,100.0 110.0,99.7 111.0,98.4 112.0,99.7 113.0,100.7 114.0,100.6 115.0,98.9 116.0,98.2 117.0,98.4 118.0,99.1 119.0,98.3 120.0,97.2 121.0,97.7 122.0,96.8 123.0,97.1 124.0,95.9 125.0,94.5 126.0,95.4 127.0,95.6 128.0,93.5 129.0,93.8 130.0,94.2 131.0,92.5 132.0,91.7 133.0,93.5 134.0,91.8 135.0,91.3 136.0,88.9 137.0,90.5 138.0,86.9 139.0,87.2 140.0,87.5 141.0,87.3 142.0,84.5 143.0,83.9 144.0,83.8 145.0,81.1 146.0,82.5 147.0,81.6 148.0,79.8 149.0,79.8 150.0,79.1 151.0,77.7 152.0,77.0 153.0,76.9 154.0,74.2 155.0,73.9 156.0,72.3 157.0,72.7 158.0,70.5 159.0,70.3 160.0,69.1 161.0,68.1 162.0,68.6 163.0,66.1 164.0,66.5 165.0,65.1 166.0,64.6 167.0,62.5 168.0,62.5 169.0,61.6 170.0,59.5 171.0,59.5 172.0,58.3 173.0,57.6 174.0,58.1 175.0,55.6 176.0,54.0 177.0,53.3 178.0,53.7 179.0,52.9 180.0,52.8 181.0,52.7 182.0,53.2 183.0,51.4 184.0,51.0 185.0,49.4 186.0,50.1 187.0,50.3 188.0,49.8 189.0,46.5 190.0,48.6 191.0,48.8 192.0,47.8 193.0,45.5 194.0,46.2 195.0,46.6 196.0,46.2 197.0,44.9 198.0,44.6 199.0,45.9 200.0,43.7 201.0,45.9 202.0,44.5 203.0,44.6 204.0,43.0 205.0,43.5 206.0,44.4 207.0,42.4 208.0,45.4 209.0,42.3 210.0,42.3 211.0,43.3 212.0,43.6 213.0,43.8 214.0,42.7 215.0,42.8 216.0,42.7 217.0,42.4 218.0,40.6 219.0,43.6 220.0,43.0 221.0,42.8 222.0,42.1 223.0,42.9 224.0,42.6 225.0,42.5 226.0,43.5 227.0,41.1 228.0,42.7 229.0,41.6 230.0,42.2 231.0,43.8 232.0,41.5 233.0,42.4 234.0,41.9 235.0,43.3 236.0,41.6 237.0,41.0 238.0,42.9 239.0,42.1 240.0,42.1 241.0,43.4 242.0,41.7 243.0,42.1 244.0,42.5" fill="none" stroke="#f5a070" stroke-opacity="0.55" stroke-width="0.85"/></g>
<g><path d="M262.0,73.0 263.0,69.3 264.0,67.5 265.0,65.4 266.0,59.5 267.0,57.7 268.0,50.9 269.0,50.4 270.0,45.8 271.0,43.2 272.0,40.1 273.0,37.4 274.0,34.8 275.0,33.6 276.0,33.4 277.0,31.9 278.0,29.5 279.0,28.4 280.0,27.5 281.0,26.5 282.0,28.5 283.0,27.2 284.0,26.4 285.0,25.7 286.0,25.1 287.0,26.9 288.0,26.4 289.0,24.9 290.0,26.5 291.0,24.7 292.0,26.2 293.0,24.8 294.0,25.3 295.0,26.0 296.0,26.0 297.0,26.4 298.0,24.9 299.0,26.9 300.0,26.7 301.0,25.6 302.0,26.0 303.0,25.0 304.0,25.5 305.0,24.5 306.0,25.7 307.0,25.8 308.0,26.7 309.0,26.4 310.0,26.3 311.0,25.3 312.0,25.4 313.0,25.3 314.0,25.8 315.0,24.0 316.0,26.2 317.0,24.3 318.0,25.2 319.0,25.6 320.0,25.2 321.0,27.0 322.0,25.5 323.0,26.9 324.0,26.6 325.0,25.2 326.0,25.9 327.0,26.7 328.0,25.3 329.0,25.7 330.0,25.1 331.0,25.6 332.0,25.3 333.0,25.7 334.0,26.4 335.0,26.7 336.0,25.7 337.0,25.8 338.0,26.3 339.0,25.4 340.0,24.7 341.0,26.5 342.0,24.8 343.0,26.4 344.0,24.8 345.0,27.1 346.0,24.7 347.0,26.3 348.0,26.8 349.0,24.8 350.0,26.8 351.0,24.9 352.0,24.2 353.0,26.2 354.0,26.2 355.0,25.4 356.0,23.5 357.0,25.6 358.0,25.4 359.0,25.3 360.0,25.4 361.0,24.1 362.0,25.1 363.0,27.1 364.0,26.9 365.0,25.3 366.0,25.0 367.0,25.9 368.0,26.5 369.0,26.2 370.0,24.6 371.0,25.7 372.0,25.7 373.0,26.8 374.0,26.6 375.0,26.0 376.0,26.6 377.0,25.3 378.0,26.9 379.0,25.3 380.0,25.9 381.0,26.3 382.0,24.9 383.0,25.0 384.0,24.2 385.0,25.7 386.0,25.6 387.0,25.3 388.0,26.0 389.0,23.9 390.0,25.6 391.0,25.7 392.0,25.4 393.0,26.2 394.0,27.0 395.0,25.2 396.0,24.8 397.0,25.1 398.0,25.7 399.0,26.1 400.0,24.9 401.0,26.4 402.0,24.8 403.0,26.3 404.0,25.9 405.0,26.0 406.0,27.4 407.0,25.4 408.0,25.5 409.0,26.0 410.0,26.3 411.0,24.5 412.0,25.8 413.0,25.0 414.0,26.1 415.0,26.7 416.0,25.6 417.0,25.5 418.0,25.7 419.0,23.2 420.0,26.2 421.0,26.1 422.0,25.7 423.0,25.3 424.0,25.0 425.0,25.5 426.0,26.6 427.0,25.5 428.0,26.7 429.0,23.5 430.0,25.2 431.0,25.8 432.0,25.6 433.0,24.2 434.0,25.1 435.0,26.6 436.0,24.5 437.0,24.8 438.0,24.7 439.0,25.1 440.0,26.1 441.0,26.1 442.0,23.9 443.0,26.8 444.0,25.1 445.0,25.1 446.0,27.0 447.0,25.5 448.0,24.6 449.0,25.1 450.0,25.0 451.0,24.8 452.0,25.3 453.0,26.3 454.0,25.9 455.0,24.5 456.0,27.9 457.0,24.8 458.0,25.7 459.0,25.6 460.0,26.2 461.0,25.3 462.0,26.0 463.0,27.3 464.0,25.7 465.0,24.7 466.0,25.9 467.0,24.9 468.0,25.3 469.0,25.8 470.0,25.9 471.0,25.4 472.0,26.3 473.0,25.4 474.0,24.5" fill="none" stroke="#62308c" stroke-opacity="0.85" stroke-width="0.80"/><path d="M262.0,92.4 263.0,90.0 264.0,89.7 265.0,86.5 266.0,85.7 267.0,83.6 268.0,79.0 269.0,77.9 270.0,75.9 271.0,75.6 272.0,70.5 273.0,70.3 274.0,68.0 275.0,65.0 276.0,62.3 277.0,58.6 278.0,56.2 279.0,53.7 280.0,51.2 281.0,48.9 282.0,45.8 283.0,43.2 284.0,41.2 285.0,40.1 286.0,36.6 287.0,35.3 288.0,34.6 289.0,33.2 290.0,32.3 291.0,29.3 292.0,30.4 293.0,29.7 294.0,29.9 295.0,27.1 296.0,28.1 297.0,28.3 298.0,28.0 299.0,28.4 300.0,28.1 301.0,26.2 302.0,27.4 303.0,26.5 304.0,26.1 305.0,27.9 306.0,26.1 307.0,25.9 308.0,26.2 309.0,25.9 310.0,27.4 311.0,26.8 312.0,27.7 313.0,26.8 314.0,26.0 315.0,27.4 316.0,26.0 317.0,26.1 318.0,26.4 319.0,26.5 320.0,27.5 321.0,26.0 322.0,26.8 323.0,26.5 324.0,25.5 325.0,25.6 326.0,26.3 327.0,26.8 328.0,26.8 329.0,26.9 330.0,26.5 331.0,26.1 332.0,26.8 333.0,25.7 334.0,25.4 335.0,26.2 336.0,25.3 337.0,26.1 338.0,25.9 339.0,26.0 340.0,26.5 341.0,25.8 342.0,26.2 343.0,25.1 344.0,26.6 345.0,25.8 346.0,26.8 347.0,24.2 348.0,25.8 349.0,26.7 350.0,24.5 351.0,26.2 352.0,26.6 353.0,26.6 354.0,25.3 355.0,26.7 356.0,26.6 357.0,25.7 358.0,27.1 359.0,26.5 360.0,26.5 361.0,26.1 362.0,26.9 363.0,26.6 364.0,27.4 365.0,26.9 366.0,26.0 367.0,26.3 368.0,27.3 369.0,26.2 370.0,26.8 371.0,26.9 372.0,26.4 373.0,24.6 374.0,26.6 375.0,26.7 376.0,26.6 377.0,25.9 378.0,27.5 379.0,26.4 380.0,26.0 381.0,25.9 382.0,26.8 383.0,25.6 384.0,25.7 385.0,28.1 386.0,27.6 387.0,27.4 388.0,27.6 389.0,27.0 390.0,25.1 391.0,27.5 392.0,27.5 393.0,26.9 394.0,24.9 395.0,27.5 396.0,27.6 397.0,26.1 398.0,26.6 399.0,27.1 400.0,26.4 401.0,27.4 402.0,26.6 403.0,27.1 404.0,26.6 405.0,25.3 406.0,25.7 407.0,29.1 408.0,26.7 409.0,27.6 410.0,27.4 411.0,27.9 412.0,27.0 413.0,26.0 414.0,26.5 415.0,24.9 416.0,26.3 417.0,27.2 418.0,24.7 419.0,26.7 420.0,27.2 421.0,27.6 422.0,25.7 423.0,26.0 424.0,25.0 425.0,25.7 426.0,26.9 427.0,28.2 428.0,25.6 429.0,27.6 430.0,26.9 431.0,26.1 432.0,28.3 433.0,24.4 434.0,26.4 435.0,26.7 436.0,28.3 437.0,28.0 438.0,28.4 439.0,26.6 440.0,27.3 441.0,27.6 442.0,26.9 443.0,26.8 444.0,26.3 445.0,26.2 446.0,25.5 447.0,28.1 448.0,26.1 449.0,24.8 450.0,26.7 451.0,26.5 452.0,26.6 453.0,28.0 454.0,26.4 455.0,26.3 456.0,25.9 457.0,26.5 458.0,26.1 459.0,26.7 460.0,29.1 461.0,26.8 462.0,25.8 463.0,28.1 464.0,27.2 465.0,27.2 466.0,27.1 467.0,27.2 468.0,27.1 469.0,27.7 470.0,27.3 471.0,27.6 472.0,26.1 473.0,26.5 474.0,25.9" fill="none" stroke="#3e3ea0" stroke-opacity="0.85" stroke-width="0.80"/><path d="M262.0,99.8 263.0,99.3 264.0,97.7 265.0,98.0 266.0,99.0 267.0,97.2 268.0,94.4 269.0,94.4 270.0,94.0 271.0,92.4 272.0,91.6 273.0,91.0 274.0,89.0 275.0,86.4 276.0,86.4 277.0,84.1 278.0,82.5 279.0,80.2 280.0,77.6 281.0,75.8 282.0,74.6 283.0,71.9 284.0,68.5 285.0,69.5 286.0,65.5 287.0,63.7 288.0,62.4 289.0,57.7 290.0,58.6 291.0,54.6 292.0,53.7 293.0,50.6 294.0,49.3 295.0,47.2 296.0,45.3 297.0,42.0 298.0,40.7 299.0,40.3 300.0,40.1 301.0,37.2 302.0,36.9 303.0,35.5 304.0,34.7 305.0,34.2 306.0,31.4 307.0,32.1 308.0,31.1 309.0,30.4 310.0,29.4 311.0,29.1 312.0,28.5 313.0,28.1 314.0,30.8 315.0,29.9 316.0,28.3 317.0,28.8 318.0,27.2 319.0,25.6 320.0,26.3 321.0,27.8 322.0,28.8 323.0,27.6 324.0,26.7 325.0,27.3 326.0,26.7 327.0,26.3 328.0,27.3 329.0,27.1 330.0,26.8 331.0,26.7 332.0,26.6 333.0,27.6 334.0,28.6 335.0,27.2 336.0,29.3 337.0,26.1 338.0,27.6 339.0,26.4 340.0,27.3 341.0,27.5 342.0,27.9 343.0,28.3 344.0,26.9 345.0,26.4 346.0,27.2 347.0,27.6 348.0,26.8 349.0,28.1 350.0,28.8 351.0,26.2 352.0,27.7 353.0,28.2 354.0,25.8 355.0,27.6 356.0,27.2 357.0,26.2 358.0,28.5 359.0,27.6 360.0,27.0 361.0,27.8 362.0,27.9 363.0,28.0 364.0,27.9 365.0,27.7 366.0,26.4 367.0,27.1 368.0,27.5 369.0,25.1 370.0,29.2 371.0,27.1 372.0,26.5 373.0,25.9 374.0,27.6 375.0,27.4 376.0,26.9 377.0,27.1 378.0,26.7 379.0,26.8 380.0,27.3 381.0,26.9 382.0,28.0 383.0,27.3 384.0,27.5 385.0,27.7 386.0,28.5 387.0,27.9 388.0,27.6 389.0,27.3 390.0,26.7 391.0,27.1 392.0,28.0 393.0,27.6 394.0,27.1 395.0,26.3 396.0,26.1 397.0,27.7 398.0,28.3 399.0,27.7 400.0,26.3 401.0,27.2 402.0,27.6 403.0,26.6 404.0,27.7 405.0,27.2 406.0,26.7 407.0,26.4 408.0,28.1 409.0,27.7 410.0,26.7 411.0,26.6 412.0,28.1 413.0,27.9 414.0,27.1 415.0,28.7 416.0,27.2 417.0,26.5 418.0,28.3 419.0,27.2 420.0,27.7 421.0,27.4 422.0,26.6 423.0,26.4 424.0,27.2 425.0,28.6 426.0,26.6 427.0,28.5 428.0,27.6 429.0,26.5 430.0,27.6 431.0,27.9 432.0,26.7 433.0,25.6 434.0,27.7 435.0,26.5 436.0,27.8 437.0,25.8 438.0,27.3 439.0,26.7 440.0,26.2 441.0,27.2 442.0,27.5 443.0,26.9 444.0,26.4 445.0,27.6 446.0,26.0 447.0,27.8 448.0,27.8 449.0,28.8 450.0,28.1 451.0,27.7 452.0,27.6 453.0,27.4 454.0,26.3 455.0,28.6 456.0,27.8 457.0,27.2 458.0,26.5 459.0,28.6 460.0,27.8 461.0,26.4 462.0,28.0 463.0,29.0 464.0,27.4 465.0,27.7 466.0,27.1 467.0,26.9 468.0,28.3 469.0,29.9 470.0,27.5 471.0,27.3 472.0,28.1 473.0,27.1 474.0,28.0" fill="none" stroke="#3030d8" stroke-opacity="0.85" stroke-width="0.80"/><path d="M262.0,101.5 263.0,99.9 264.0,99.6 265.0,100.3 266.0,100.8 267.0,100.1 268.0,100.6 269.0,98.2 270.0,99.4 271.0,98.0 272.0,98.2 273.0,97.9 274.0,96.3 275.0,96.3 276.0,94.9 277.0,95.3 278.0,93.6 279.0,93.1 280.0,92.7 281.0,91.0 282.0,91.4 283.0,88.8 284.0,88.9 285.0,87.1 286.0,84.7 287.0,83.9 288.0,81.9 289.0,80.8 290.0,79.2 291.0,79.3 292.0,75.7 293.0,75.6 294.0,72.9 295.0,69.6 296.0,67.0 297.0,67.6 298.0,63.5 299.0,63.8 300.0,62.2 301.0,59.8 302.0,57.4 303.0,55.6 304.0,54.2 305.0,52.0 306.0,50.1 307.0,48.6 308.0,48.3 309.0,45.3 310.0,44.7 311.0,42.0 312.0,41.1 313.0,39.3 314.0,39.1 315.0,38.8 316.0,37.5 317.0,35.9 318.0,35.9 319.0,34.4 320.0,34.2 321.0,33.5 322.0,33.1 323.0,30.1 324.0,30.6 325.0,31.9 326.0,30.7 327.0,32.3 328.0,30.0 329.0,29.5 330.0,30.9 331.0,29.9 332.0,30.9 333.0,29.6 334.0,28.8 335.0,29.5 336.0,28.1 337.0,28.3 338.0,28.2 339.0,28.4 340.0,29.2 341.0,28.1 342.0,28.7 343.0,28.0 344.0,29.1 345.0,26.1 346.0,28.2 347.0,28.5 348.0,27.5 349.0,29.2 350.0,28.5 351.0,29.4 352.0,29.1 353.0,28.8 354.0,28.2 355.0,27.4 356.0,28.1 357.0,27.9 358.0,28.5 359.0,27.9 360.0,30.8 361.0,27.0 362.0,29.3 363.0,27.9 364.0,28.1 365.0,29.1 366.0,28.3 367.0,27.3 368.0,28.6 369.0,28.1 370.0,26.6 371.0,28.5 372.0,27.4 373.0,27.7 374.0,28.7 375.0,28.5 376.0,28.1 377.0,30.1 378.0,28.6 379.0,27.8 380.0,28.5 381.0,28.2 382.0,26.5 383.0,27.0 384.0,27.2 385.0,30.0 386.0,28.1 387.0,28.1 388.0,27.8 389.0,29.1 390.0,28.3 391.0,29.7 392.0,28.9 393.0,29.6 394.0,28.2 395.0,28.6 396.0,27.9 397.0,28.2 398.0,26.9 399.0,27.8 400.0,27.5 401.0,27.8 402.0,29.3 403.0,28.5 404.0,29.3 405.0,29.0 406.0,29.1 407.0,29.1 408.0,27.8 409.0,29.0 410.0,28.0 411.0,27.9 412.0,29.3 413.0,30.1 414.0,27.5 415.0,29.7 416.0,29.0 417.0,27.6 418.0,28.5 419.0,28.6 420.0,28.6 421.0,28.0 422.0,27.2 423.0,28.3 424.0,29.0 425.0,28.9 426.0,28.8 427.0,29.2 428.0,27.5 429.0,28.3 430.0,28.6 431.0,29.1 432.0,28.4 433.0,28.7 434.0,28.4 435.0,30.0 436.0,26.5 437.0,28.3 438.0,30.3 439.0,28.5 440.0,26.8 441.0,28.4 442.0,27.1 443.0,27.7 444.0,28.5 445.0,29.7 446.0,28.7 447.0,28.8 448.0,29.1 449.0,28.5 450.0,27.6 451.0,28.2 452.0,28.6 453.0,28.1 454.0,27.8 455.0,28.0 456.0,27.1 457.0,27.5 458.0,28.2 459.0,28.0 460.0,28.3 461.0,29.4 462.0,28.5 463.0,28.3 464.0,27.3 465.0,27.4 466.0,28.6 467.0,27.6 468.0,28.7 469.0,27.4 470.0,28.4 471.0,28.2 472.0,29.1 473.0,28.0 474.0,28.0" fill="none" stroke="#38a838" stroke-opacity="0.85" stroke-width="0.80"/><path d="M262.0,101.5 263.0,101.3 264.0,102.6 265.0,100.9 266.0,100.6 267.0,100.7 268.0,101.2 269.0,100.9 270.0,101.2 271.0,99.3 272.0,102.3 273.0,101.6 274.0,99.8 275.0,98.6 276.0,99.4 277.0,99.3 278.0,96.8 279.0,98.3 280.0,96.7 281.0,97.8 282.0,98.0 283.0,97.2 284.0,94.6 285.0,96.3 286.0,95.2 287.0,93.4 288.0,93.3 289.0,93.3 290.0,90.9 291.0,90.2 292.0,88.7 293.0,89.0 294.0,85.2 295.0,86.9 296.0,83.7 297.0,84.0 298.0,80.5 299.0,79.7 300.0,78.5 301.0,78.2 302.0,74.7 303.0,75.0 304.0,72.4 305.0,72.3 306.0,69.4 307.0,68.4 308.0,66.2 309.0,66.2 310.0,62.8 311.0,61.5 312.0,61.5 313.0,58.4 314.0,57.3 315.0,54.6 316.0,53.9 317.0,50.4 318.0,50.9 319.0,48.9 320.0,46.8 321.0,45.6 322.0,46.4 323.0,44.7 324.0,41.9 325.0,43.6 326.0,40.5 327.0,39.8 328.0,39.3 329.0,37.3 330.0,36.1 331.0,36.1 332.0,36.9 333.0,36.1 334.0,33.4 335.0,35.1 336.0,33.7 337.0,33.6 338.0,32.8 339.0,32.7 340.0,31.2 341.0,30.9 342.0,30.8 343.0,30.8 344.0,31.4 345.0,29.7 346.0,31.8 347.0,29.8 348.0,29.7 349.0,30.6 350.0,30.3 351.0,29.5 352.0,28.8 353.0,28.8 354.0,28.3 355.0,30.5 356.0,30.4 357.0,31.0 358.0,29.8 359.0,29.6 360.0,30.0 361.0,30.1 362.0,29.1 363.0,29.6 364.0,31.0 365.0,27.9 366.0,28.1 367.0,28.4 368.0,29.8 369.0,30.2 370.0,28.9 371.0,29.8 372.0,29.2 373.0,29.5 374.0,28.8 375.0,29.2 376.0,29.2 377.0,30.1 378.0,31.0 379.0,27.7 380.0,29.6 381.0,29.2 382.0,30.0 383.0,30.1 384.0,29.8 385.0,29.9 386.0,28.4 387.0,27.8 388.0,30.6 389.0,30.2 390.0,28.4 391.0,30.3 392.0,29.7 393.0,27.2 394.0,29.9 395.0,28.4 396.0,30.2 397.0,28.6 398.0,28.6 399.0,27.9 400.0,29.0 401.0,30.0 402.0,28.7 403.0,27.7 404.0,31.0 405.0,30.7 406.0,29.8 407.0,28.8 408.0,28.2 409.0,27.9 410.0,29.7 411.0,30.3 412.0,28.3 413.0,29.2 414.0,29.0 415.0,29.0 416.0,29.6 417.0,30.9 418.0,28.7 419.0,29.9 420.0,30.1 421.0,29.0 422.0,29.1 423.0,28.1 424.0,30.1 425.0,28.8 426.0,28.7 427.0,29.3 428.0,28.5 429.0,28.3 430.0,29.0 431.0,30.4 432.0,29.0 433.0,29.6 434.0,28.0 435.0,27.6 436.0,30.7 437.0,28.9 438.0,27.9 439.0,29.1 440.0,29.7 441.0,27.8 442.0,28.5 443.0,29.4 444.0,28.4 445.0,29.9 446.0,30.0 447.0,29.6 448.0,28.8 449.0,29.2 450.0,28.7 451.0,29.1 452.0,29.5 453.0,29.0 454.0,30.0 455.0,31.3 456.0,28.8 457.0,29.5 458.0,29.9 459.0,29.7 460.0,29.0 461.0,28.8 462.0,30.0 463.0,29.7 464.0,29.6 465.0,28.5 466.0,29.7 467.0,29.9 468.0,29.0 469.0,29.7 470.0,31.0 471.0,27.7 472.0,29.7 473.0,28.2 474.0,28.1" fill="none" stroke="#e4dc30" stroke-opacity="0.85" stroke-width="0.80"/><path d="M262.0,101.3 263.0,101.9 264.0,101.5 265.0,100.4 266.0,100.2 267.0,100.9 268.0,101.3 269.0,100.5 270.0,99.9 271.0,102.5 272.0,100.3 273.0,100.8 274.0,100.4 275.0,100.2 276.0,100.6 277.0,100.2 278.0,100.8 279.0,99.1 280.0,98.7 281.0,101.3 282.0,99.4 283.0,99.8 284.0,99.9 285.0,99.1 286.0,98.3 287.0,96.6 288.0,96.2 289.0,97.8 290.0,97.1 291.0,96.5 292.0,94.1 293.0,93.1 294.0,93.4 295.0,92.6 296.0,93.0 297.0,91.2 298.0,92.6 299.0,89.9 300.0,89.0 301.0,89.2 302.0,87.8 303.0,85.8 304.0,86.1 305.0,85.9 306.0,82.1 307.0,81.7 308.0,79.8 309.0,77.8 310.0,78.6 311.0,77.3 312.0,76.2 313.0,74.3 314.0,70.9 315.0,71.1 316.0,69.1 317.0,67.2 318.0,65.8 319.0,65.9 320.0,63.6 321.0,64.1 322.0,61.4 323.0,58.1 324.0,59.0 325.0,58.0 326.0,55.6 327.0,53.3 328.0,54.5 329.0,50.7 330.0,50.5 331.0,47.8 332.0,47.2 333.0,45.7 334.0,46.9 335.0,45.9 336.0,43.6 337.0,41.9 338.0,42.1 339.0,41.5 340.0,39.1 341.0,38.7 342.0,38.8 343.0,38.8 344.0,37.6 345.0,37.3 346.0,35.3 347.0,33.7 348.0,35.5 349.0,34.0 350.0,34.3 351.0,33.6 352.0,34.0 353.0,32.6 354.0,34.1 355.0,32.7 356.0,32.8 357.0,32.6 358.0,32.8 359.0,32.0 360.0,30.1 361.0,30.8 362.0,32.8 363.0,31.5 364.0,31.4 365.0,31.2 366.0,30.2 367.0,30.1 368.0,30.1 369.0,31.5 370.0,30.8 371.0,31.9 372.0,30.8 373.0,31.9 374.0,30.7 375.0,29.3 376.0,31.7 377.0,30.5 378.0,31.2 379.0,30.4 380.0,29.9 381.0,30.3 382.0,29.2 383.0,29.2 384.0,29.4 385.0,29.7 386.0,29.0 387.0,30.0 388.0,30.4 389.0,31.8 390.0,31.6 391.0,30.1 392.0,30.8 393.0,29.9 394.0,30.4 395.0,30.1 396.0,29.7 397.0,30.2 398.0,28.9 399.0,30.5 400.0,29.9 401.0,29.2 402.0,29.8 403.0,30.6 404.0,29.5 405.0,30.5 406.0,30.6 407.0,31.4 408.0,29.2 409.0,30.0 410.0,30.5 411.0,31.4 412.0,30.3 413.0,30.7 414.0,28.9 415.0,29.6 416.0,31.5 417.0,29.9 418.0,31.9 419.0,29.5 420.0,29.9 421.0,28.8 422.0,30.6 423.0,30.3 424.0,31.8 425.0,30.2 426.0,29.9 427.0,28.9 428.0,30.0 429.0,30.9 430.0,30.7 431.0,31.1 432.0,30.8 433.0,30.1 434.0,30.6 435.0,30.2 436.0,29.0 437.0,31.5 438.0,30.4 439.0,29.2 440.0,30.4 441.0,30.3 442.0,30.9 443.0,31.3 444.0,27.5 445.0,30.6 446.0,31.4 447.0,29.3 448.0,28.5 449.0,30.3 450.0,30.4 451.0,30.4 452.0,29.2 453.0,29.7 454.0,30.3 455.0,30.7 456.0,31.9 457.0,30.3 458.0,29.6 459.0,28.1 460.0,31.0 461.0,30.0 462.0,30.0 463.0,29.3 464.0,30.7 465.0,28.6 466.0,30.2 467.0,30.2 468.0,30.4 469.0,31.2 470.0,30.0 471.0,30.2 472.0,30.8 473.0,28.8 474.0,29.9" fill="none" stroke="#f09a58" stroke-opacity="0.85" stroke-width="0.80"/><path d="M262.0,101.6 263.0,102.3 264.0,100.9 265.0,102.2 266.0,101.8 267.0,100.2 268.0,100.2 269.0,100.2 270.0,101.5 271.0,101.6 272.0,102.0 273.0,102.0 274.0,100.8 275.0,102.1 276.0,101.9 277.0,101.5 278.0,101.5 279.0,99.9 280.0,101.2 281.0,99.9 282.0,99.7 283.0,100.3 284.0,100.6 285.0,100.3 286.0,99.9 287.0,99.2 288.0,100.0 289.0,99.0 290.0,98.2 291.0,99.2 292.0,100.1 293.0,98.3 294.0,97.4 295.0,99.1 296.0,99.0 297.0,97.0 298.0,96.6 299.0,96.5 300.0,98.3 301.0,95.4 302.0,95.6 303.0,94.6 304.0,92.0 305.0,92.0 306.0,91.2 307.0,91.9 308.0,90.8 309.0,91.5 310.0,88.9 311.0,88.5 312.0,87.4 313.0,86.5 314.0,87.3 315.0,84.6 316.0,84.6 317.0,83.3 318.0,80.6 319.0,80.5 320.0,78.5 321.0,77.7 322.0,76.5 323.0,75.1 324.0,73.5 325.0,73.9 326.0,71.1 327.0,70.6 328.0,70.1 329.0,67.9 330.0,66.9 331.0,66.0 332.0,64.5 333.0,63.8 334.0,59.9 335.0,61.5 336.0,58.7 337.0,56.0 338.0,55.7 339.0,53.9 340.0,54.0 341.0,51.6 342.0,50.9 343.0,51.0 344.0,49.8 345.0,48.0 346.0,47.5 347.0,46.7 348.0,45.9 349.0,44.9 350.0,43.9 351.0,44.0 352.0,41.1 353.0,41.3 354.0,41.1 355.0,40.0 356.0,39.2 357.0,38.7 358.0,38.6 359.0,39.0 360.0,37.2 361.0,36.7 362.0,36.7 363.0,35.8 364.0,33.9 365.0,35.4 366.0,34.5 367.0,34.0 368.0,34.7 369.0,33.9 370.0,33.2 371.0,31.5 372.0,31.7 373.0,33.0 374.0,32.7 375.0,33.0 376.0,32.6 377.0,31.9 378.0,31.1 379.0,31.1 380.0,31.8 381.0,30.8 382.0,32.4 383.0,30.5 384.0,30.1 385.0,31.3 386.0,29.9 387.0,32.8 388.0,30.5 389.0,31.3 390.0,31.1 391.0,30.5 392.0,29.7 393.0,29.6 394.0,31.9 395.0,32.0 396.0,33.0 397.0,29.9 398.0,31.6 399.0,31.1 400.0,31.8 401.0,30.6 402.0,31.7 403.0,31.8 404.0,31.6 405.0,32.3 406.0,30.9 407.0,32.3 408.0,30.4 409.0,32.4 410.0,28.7 411.0,31.0 412.0,30.3 413.0,31.0 414.0,31.9 415.0,31.6 416.0,31.1 417.0,32.5 418.0,29.7 419.0,30.3 420.0,32.3 421.0,31.3 422.0,29.2 423.0,31.3 424.0,30.0 425.0,32.3 426.0,32.0 427.0,30.5 428.0,32.1 429.0,30.3 430.0,31.8 431.0,31.5 432.0,30.9 433.0,29.8 434.0,30.8 435.0,29.1 436.0,30.5 437.0,29.4 438.0,32.0 439.0,30.2 440.0,28.9 441.0,31.5 442.0,31.3 443.0,30.6 444.0,32.8 445.0,31.7 446.0,31.1 447.0,30.5 448.0,28.5 449.0,31.4 450.0,31.8 451.0,30.5 452.0,29.8 453.0,31.0 454.0,29.6 455.0,31.0 456.0,31.7 457.0,32.3 458.0,31.2 459.0,31.2 460.0,31.6 461.0,32.2 462.0,30.7 463.0,30.0 464.0,30.3 465.0,29.9 466.0,30.2 467.0,30.9 468.0,31.3 469.0,31.1 470.0,31.1 471.0,30.7 472.0,31.4 473.0,31.8 474.0,31.6" fill="none" stroke="#e04848" stroke-opacity="0.85" stroke-width="0.80"/><path d="M262.0,102.9 263.0,101.3 264.0,101.4 265.0,103.0 266.0,101.7 267.0,101.9 268.0,101.3 269.0,102.4 270.0,101.2 271.0,100.7 272.0,101.4 273.0,101.1 274.0,102.2 275.0,101.1 276.0,101.5 277.0,101.2 278.0,101.7 279.0,100.8 280.0,102.2 281.0,100.1 282.0,100.9 283.0,100.6 284.0,101.7 285.0,101.1 286.0,101.4 287.0,100.6 288.0,100.2 289.0,99.8 290.0,100.4 291.0,100.1 292.0,100.7 293.0,100.6 294.0,101.0 295.0,99.9 296.0,99.2 297.0,98.7 298.0,99.5 299.0,99.5 300.0,100.6 301.0,98.9 302.0,99.9 303.0,99.7 304.0,96.9 305.0,98.5 306.0,98.1 307.0,97.9 308.0,96.3 309.0,96.7 310.0,95.0 311.0,94.9 312.0,94.4 313.0,95.4 314.0,93.1 315.0,93.5 316.0,92.1 317.0,90.7 318.0,90.8 319.0,90.5 320.0,88.5 321.0,88.9 322.0,86.9 323.0,85.9 324.0,85.9 325.0,84.6 326.0,83.1 327.0,81.5 328.0,81.9 329.0,81.1 330.0,79.5 331.0,78.9 332.0,76.4 333.0,76.9 334.0,75.8 335.0,74.5 336.0,72.6 337.0,72.0 338.0,70.9 339.0,70.5 340.0,68.7 341.0,67.4 342.0,65.5 343.0,65.7 344.0,64.9 345.0,62.3 346.0,62.2 347.0,60.8 348.0,59.4 349.0,57.3 350.0,58.8 351.0,54.7 352.0,55.5 353.0,54.0 354.0,54.3 355.0,52.0 356.0,51.4 357.0,51.0 358.0,49.9 359.0,48.2 360.0,48.4 361.0,47.3 362.0,47.0 363.0,44.9 364.0,44.6 365.0,43.6 366.0,42.5 367.0,42.7 368.0,42.2 369.0,42.5 370.0,40.4 371.0,40.4 372.0,40.5 373.0,39.0 374.0,38.6 375.0,38.2 376.0,37.1 377.0,36.4 378.0,37.8 379.0,36.6 380.0,36.1 381.0,34.8 382.0,35.6 383.0,36.2 384.0,34.0 385.0,34.0 386.0,35.4 387.0,35.5 388.0,35.4 389.0,33.4 390.0,34.2 391.0,32.9 392.0,33.8 393.0,32.9 394.0,33.3 395.0,34.1 396.0,33.2 397.0,32.6 398.0,32.8 399.0,32.9 400.0,32.1 401.0,32.7 402.0,32.9 403.0,33.7 404.0,30.6 405.0,31.3 406.0,31.2 407.0,32.9 408.0,34.2 409.0,32.3 410.0,32.2 411.0,33.0 412.0,30.0 413.0,31.9 414.0,29.4 415.0,32.1 416.0,31.6 417.0,31.6 418.0,32.3 419.0,31.5 420.0,32.9 421.0,31.9 422.0,32.3 423.0,34.1 424.0,31.6 425.0,32.7 426.0,31.2 427.0,33.0 428.0,32.7 429.0,32.0 430.0,32.8 431.0,33.3 432.0,33.1 433.0,31.9 434.0,31.9 435.0,32.8 436.0,30.7 437.0,31.4 438.0,32.3 439.0,32.4 440.0,33.5 441.0,33.4 442.0,32.2 443.0,32.3 444.0,30.8 445.0,31.7 446.0,32.1 447.0,31.7 448.0,32.0 449.0,32.4 450.0,31.1 451.0,31.4 452.0,30.4 453.0,32.9 454.0,31.0 455.0,30.5 456.0,32.5 457.0,31.7 458.0,32.7 459.0,31.6 460.0,33.7 461.0,32.5 462.0,32.0 463.0,32.0 464.0,31.7 465.0,32.6 466.0,33.6 467.0,31.5 468.0,31.0 469.0,32.4 470.0,32.8 471.0,30.6 472.0,31.3 473.0,31.1 474.0,32.4" fill="none" stroke="#62308c" stroke-opacity="0.85" stroke-width="0.80"/><path d="M262.0,102.0 263.0,101.0 264.0,100.6 265.0,102.2 266.0,99.9 267.0,102.1 268.0,101.4 269.0,103.2 270.0,102.4 271.0,101.1 272.0,101.3 273.0,101.3 274.0,100.9 275.0,101.6 276.0,102.3 277.0,100.2 278.0,101.3 279.0,102.7 280.0,102.1 281.0,100.8 282.0,100.8 283.0,100.7 284.0,100.0 285.0,102.3 286.0,101.4 287.0,100.7 288.0,100.1 289.0,100.9 290.0,100.7 291.0,102.6 292.0,100.7 293.0,101.1 294.0,101.8 295.0,101.4 296.0,100.6 297.0,98.9 298.0,101.8 299.0,101.0 300.0,100.0 301.0,100.2 302.0,99.3 303.0,99.2 304.0,98.6 305.0,100.0 306.0,99.9 307.0,99.4 308.0,99.7 309.0,99.2 310.0,98.6 311.0,97.5 312.0,98.5 313.0,98.7 314.0,97.9 315.0,98.1 316.0,96.3 317.0,95.5 318.0,96.9 319.0,94.9 320.0,95.2 321.0,94.3 322.0,94.0 323.0,93.2 324.0,92.5 325.0,90.8 326.0,93.3 327.0,91.3 328.0,88.8 329.0,89.0 330.0,88.1 331.0,87.7 332.0,85.4 333.0,87.2 334.0,87.3 335.0,84.9 336.0,84.9 337.0,83.9 338.0,81.4 339.0,82.5 340.0,79.2 341.0,79.1 342.0,78.3 343.0,78.7 344.0,76.7 345.0,75.5 346.0,73.9 347.0,73.5 348.0,72.4 349.0,71.9 350.0,71.4 351.0,69.8 352.0,68.1 353.0,66.9 354.0,67.3 355.0,65.2 356.0,64.0 357.0,64.5 358.0,63.3 359.0,61.5 360.0,60.0 361.0,58.6 362.0,59.0 363.0,56.8 364.0,57.1 365.0,54.7 366.0,54.5 367.0,53.9 368.0,52.8 369.0,52.0 370.0,51.3 371.0,49.3 372.0,48.5 373.0,48.5 374.0,49.4 375.0,47.0 376.0,45.7 377.0,45.2 378.0,45.1 379.0,45.4 380.0,43.3 381.0,43.7 382.0,42.8 383.0,41.8 384.0,40.8 385.0,40.9 386.0,39.9 387.0,40.5 388.0,38.2 389.0,40.1 390.0,39.4 391.0,38.9 392.0,39.3 393.0,38.2 394.0,35.9 395.0,37.1 396.0,37.1 397.0,35.9 398.0,35.3 399.0,36.3 400.0,36.1 401.0,35.1 402.0,35.1 403.0,34.7 404.0,34.4 405.0,34.7 406.0,35.5 407.0,33.1 408.0,34.0 409.0,35.5 410.0,34.3 411.0,34.1 412.0,34.5 413.0,32.9 414.0,32.7 415.0,32.2 416.0,32.3 417.0,33.7 418.0,34.1 419.0,33.0 420.0,32.7 421.0,33.6 422.0,33.7 423.0,33.4 424.0,31.5 425.0,32.6 426.0,31.0 427.0,33.2 428.0,32.3 429.0,32.4 430.0,34.2 431.0,34.0 432.0,33.3 433.0,33.1 434.0,33.0 435.0,32.4 436.0,32.8 437.0,34.5 438.0,32.1 439.0,32.3 440.0,33.0 441.0,33.6 442.0,33.5 443.0,32.0 444.0,32.7 445.0,32.6 446.0,31.8 447.0,32.9 448.0,32.4 449.0,33.6 450.0,33.2 451.0,32.2 452.0,32.9 453.0,32.5 454.0,32.3 455.0,32.4 456.0,33.7 457.0,32.5 458.0,31.4 459.0,32.2 460.0,33.5 461.0,34.6 462.0,31.9 463.0,32.5 464.0,32.5 465.0,31.6 466.0,33.1 467.0,32.8 468.0,33.0 469.0,34.7 470.0,32.6 471.0,33.5 472.0,33.5 473.0,32.3 474.0,32.3" fill="none" stroke="#3e3ea0" stroke-opacity="0.85" stroke-width="0.80"/><path d="M262.0,102.9 263.0,102.2 264.0,101.7 265.0,100.7 266.0,102.3 267.0,102.0 268.0,103.4 269.0,102.8 270.0,102.3 271.0,101.8 272.0,101.6 273.0,101.1 274.0,101.8 275.0,101.8 276.0,102.1 277.0,102.5 278.0,101.8 279.0,101.1 280.0,102.2 281.0,102.8 282.0,100.8 283.0,101.9 284.0,102.0 285.0,101.9 286.0,101.9 287.0,101.4 288.0,101.4 289.0,102.8 290.0,102.8 291.0,100.2 292.0,99.3 293.0,101.7 294.0,100.8 295.0,100.9 296.0,99.9 297.0,101.5 298.0,101.1 299.0,100.7 300.0,101.8 301.0,103.0 302.0,102.2 303.0,101.8 304.0,100.5 305.0,101.3 306.0,100.6 307.0,101.5 308.0,100.9 309.0,100.3 310.0,100.7 311.0,99.5 312.0,100.6 313.0,101.0 314.0,99.3 315.0,99.9 316.0,97.9 317.0,99.9 318.0,99.6 319.0,97.8 320.0,99.9 321.0,98.3 322.0,96.5 323.0,96.5 324.0,98.0 325.0,96.8 326.0,97.6 327.0,95.0 328.0,95.8 329.0,96.3 330.0,94.6 331.0,95.2 332.0,93.9 333.0,94.0 334.0,93.5 335.0,94.6 336.0,91.2 337.0,92.3 338.0,92.1 339.0,89.5 340.0,89.8 341.0,91.0 342.0,89.3 343.0,85.3 344.0,86.8 345.0,84.9 346.0,85.8 347.0,84.1 348.0,83.5 349.0,82.4 350.0,82.5 351.0,81.0 352.0,79.8 353.0,79.4 354.0,79.1 355.0,77.1 356.0,77.8 357.0,74.5 358.0,75.3 359.0,73.7 360.0,74.3 361.0,71.5 362.0,70.5 363.0,68.9 364.0,70.7 365.0,68.6 366.0,66.2 367.0,65.9 368.0,64.5 369.0,65.6 370.0,63.8 371.0,60.9 372.0,61.9 373.0,61.6 374.0,59.9 375.0,59.5 376.0,58.1 377.0,57.5 378.0,56.7 379.0,55.1 380.0,55.2 381.0,54.2 382.0,53.3 383.0,52.0 384.0,50.9 385.0,51.2 386.0,51.0 387.0,47.6 388.0,48.5 389.0,49.3 390.0,48.3 391.0,46.3 392.0,47.4 393.0,44.9 394.0,44.5 395.0,46.2 396.0,43.7 397.0,43.3 398.0,41.6 399.0,41.7 400.0,41.1 401.0,41.5 402.0,39.6 403.0,41.6 404.0,40.0 405.0,39.4 406.0,39.0 407.0,39.8 408.0,40.1 409.0,38.2 410.0,39.6 411.0,39.3 412.0,38.8 413.0,37.7 414.0,36.0 415.0,37.5 416.0,36.4 417.0,36.7 418.0,34.8 419.0,35.9 420.0,36.2 421.0,35.0 422.0,35.9 423.0,36.9 424.0,35.6 425.0,34.7 426.0,37.1 427.0,33.2 428.0,34.1 429.0,35.1 430.0,34.2 431.0,32.7 432.0,34.8 433.0,35.2 434.0,33.8 435.0,35.6 436.0,34.7 437.0,35.2 438.0,32.9 439.0,34.2 440.0,35.4 441.0,35.7 442.0,35.1 443.0,34.0 444.0,34.1 445.0,33.4 446.0,34.8 447.0,33.3 448.0,34.0 449.0,32.2 450.0,32.6 451.0,35.3 452.0,33.9 453.0,34.0 454.0,32.0 455.0,33.8 456.0,35.5 457.0,32.5 458.0,31.8 459.0,33.6 460.0,33.3 461.0,33.6 462.0,32.7 463.0,32.6 464.0,32.7 465.0,34.3 466.0,33.7 467.0,34.4 468.0,32.8 469.0,34.2 470.0,33.3 471.0,33.8 472.0,34.5 473.0,33.7 474.0,33.4" fill="none" stroke="#3030d8" stroke-opacity="0.85" stroke-width="0.80"/><path d="M262.0,100.2 263.0,101.6 264.0,102.2 265.0,101.1 266.0,101.5 267.0,100.1 268.0,100.5 269.0,101.9 270.0,102.7 271.0,101.3 272.0,100.2 273.0,101.3 274.0,100.3 275.0,101.4 276.0,103.2 277.0,101.8 278.0,101.4 279.0,102.4 280.0,101.3 281.0,101.8 282.0,101.7 283.0,101.9 284.0,100.3 285.0,102.1 286.0,102.3 287.0,99.6 288.0,99.3 289.0,100.8 290.0,102.7 291.0,101.5 292.0,102.0 293.0,101.9 294.0,102.2 295.0,100.9 296.0,100.9 297.0,101.7 298.0,101.9 299.0,101.8 300.0,101.6 301.0,100.9 302.0,102.2 303.0,101.6 304.0,102.0 305.0,99.0 306.0,101.9 307.0,99.0 308.0,101.1 309.0,100.3 310.0,100.9 311.0,100.3 312.0,100.4 313.0,100.7 314.0,100.8 315.0,99.7 316.0,98.2 317.0,99.5 318.0,100.5 319.0,99.2 320.0,100.1 321.0,99.3 322.0,98.7 323.0,100.3 324.0,100.5 325.0,98.8 326.0,98.7 327.0,99.3 328.0,97.1 329.0,97.3 330.0,98.7 331.0,98.2 332.0,96.8 333.0,96.2 334.0,96.9 335.0,95.0 336.0,95.5 337.0,95.3 338.0,93.1 339.0,95.2 340.0,94.9 341.0,94.7 342.0,92.2 343.0,91.8 344.0,91.7 345.0,90.8 346.0,93.1 347.0,90.0 348.0,90.0 349.0,89.8 350.0,89.4 351.0,89.6 352.0,86.8 353.0,87.8 354.0,86.5 355.0,84.7 356.0,85.1 357.0,83.0 358.0,84.8 359.0,82.1 360.0,82.7 361.0,82.2 362.0,79.8 363.0,78.7 364.0,78.7 365.0,76.9 366.0,77.6 367.0,76.2 368.0,74.5 369.0,73.6 370.0,73.9 371.0,71.2 372.0,72.9 373.0,69.9 374.0,69.5 375.0,68.0 376.0,69.2 377.0,67.7 378.0,67.3 379.0,65.9 380.0,64.6 381.0,65.1 382.0,63.5 383.0,62.5 384.0,61.8 385.0,61.1 386.0,59.9 387.0,58.8 388.0,56.8 389.0,59.1 390.0,55.5 391.0,54.0 392.0,54.5 393.0,56.0 394.0,54.7 395.0,52.5 396.0,52.5 397.0,51.6 398.0,49.3 399.0,50.0 400.0,49.9 401.0,50.1 402.0,47.4 403.0,46.0 404.0,46.0 405.0,47.0 406.0,46.3 407.0,45.8 408.0,45.3 409.0,44.4 410.0,43.0 411.0,44.1 412.0,43.6 413.0,43.3 414.0,43.5 415.0,41.0 416.0,39.7 417.0,39.8 418.0,42.7 419.0,39.8 420.0,40.6 421.0,39.9 422.0,40.2 423.0,42.1 424.0,38.6 425.0,38.7 426.0,38.0 427.0,38.5 428.0,38.5 429.0,37.0 430.0,38.8 431.0,38.4 432.0,37.7 433.0,37.0 434.0,36.7 435.0,35.4 436.0,37.2 437.0,35.7 438.0,35.9 439.0,37.1 440.0,35.3 441.0,35.6 442.0,36.6 443.0,37.4 444.0,35.1 445.0,36.6 446.0,35.0 447.0,35.8 448.0,35.8 449.0,34.4 450.0,36.2 451.0,36.8 452.0,35.2 453.0,35.4 454.0,34.1 455.0,36.6 456.0,35.1 457.0,33.9 458.0,35.6 459.0,33.7 460.0,34.3 461.0,33.1 462.0,36.0 463.0,36.7 464.0,34.3 465.0,34.2 466.0,34.3 467.0,34.3 468.0,35.2 469.0,36.0 470.0,33.9 471.0,35.1 472.0,33.2 473.0,36.0 474.0,34.6" fill="none" stroke="#38a838" stroke-opacity="0.85" stroke-width="0.80"/></g>
<g><path d="M49.0,133.3 50.7,125.9 52.4,128.4 54.1,131.2 55.8,127.7 57.5,126.5 59.2,132.3 60.9,130.4 62.6,133.5 64.3,128.4 66.0,134.1 67.7,128.8 69.4,136.1 71.1,136.4 72.8,129.0 74.5,125.8 76.2,129.4 77.9,131.3 79.6,126.9 81.3,131.3 83.0,130.9 84.7,137.1 86.4,131.7 88.1,130.5 89.8,135.2 91.5,124.6 93.2,132.5 94.9,127.4 96.6,131.6 98.3,128.6 100.0,136.6 101.7,130.0 103.4,137.0 105.1,126.8 106.8,137.0 108.5,132.4 110.2,127.8 111.9,132.1 113.6,130.6 115.3,134.1 117.0,128.6 118.7,128.9 120.4,134.2 122.1,129.7 123.8,132.9 125.5,129.1 127.2,136.2 128.9,124.9 130.6,133.9 132.3,134.5 134.0,131.4 135.7,130.8 137.4,133.5 139.1,135.2 140.8,130.9 142.5,131.2 144.2,130.6 145.9,130.8 147.6,128.8 149.3,130.8 151.0,130.3 152.7,137.8 154.4,130.6 156.1,129.8 157.8,131.2 159.5,129.1 161.2,126.4 162.9,131.2 164.6,126.5 166.3,136.5 168.0,126.0 169.7,134.1 171.4,124.3 173.1,133.2 174.8,130.9 176.5,133.5 178.2,128.7 179.9,132.9 181.6,134.7 183.3,129.9 185.0,133.6 186.7,129.5 188.4,138.7 190.1,130.4 191.8,135.4 193.5,125.7 195.2,133.7 196.9,127.1 198.6,131.8 200.3,129.7 202.0,132.7 203.7,127.9 205.4,131.6 207.1,127.7 208.8,129.7 210.5,133.2 212.2,129.3 213.9,131.8 215.6,134.2 217.3,128.7 219.0,132.0 220.7,133.6 222.4,129.3 224.1,131.2 225.8,136.0" fill="none" stroke="#7a5ac0" stroke-opacity="0.60" stroke-width="0.75"/><path d="M49.0,132.5 50.7,126.4 52.4,133.6 54.1,129.5 55.8,140.0 57.5,127.9 59.2,127.5 60.9,137.8 62.6,127.6 64.3,128.1 66.0,131.1 67.7,126.3 69.4,131.9 71.1,128.0 72.8,131.3 74.5,130.3 76.2,134.8 77.9,128.4 79.6,131.5 81.3,131.0 83.0,138.5 84.7,129.4 86.4,136.9 88.1,129.2 89.8,133.2 91.5,130.4 93.2,136.8 94.9,130.8 96.6,132.2 98.3,126.9 100.0,138.5 101.7,129.5 103.4,136.2 105.1,129.3 106.8,124.2 108.5,134.5 110.2,122.8 111.9,129.2 113.6,128.6 115.3,131.5 117.0,134.2 118.7,127.0 120.4,132.4 122.1,127.1 123.8,135.0 125.5,126.1 127.2,131.6 128.9,133.0 130.6,129.7 132.3,133.2 134.0,126.8 135.7,132.3 137.4,134.2 139.1,131.4 140.8,124.5 142.5,132.7 144.2,125.2 145.9,128.0 147.6,132.1 149.3,134.1 151.0,130.0 152.7,140.7 154.4,127.2 156.1,132.2 157.8,130.2 159.5,132.2 161.2,127.2 162.9,135.5 164.6,135.7 166.3,127.8 168.0,133.8 169.7,127.4 171.4,134.2 173.1,132.8 174.8,128.1 176.5,133.5 178.2,126.8 179.9,137.0 181.6,127.9 183.3,135.8 185.0,129.8 186.7,133.2 188.4,126.8 190.1,132.5 191.8,129.7 193.5,135.5 195.2,130.5 196.9,135.3 198.6,127.2 200.3,126.0 202.0,133.2 203.7,131.9 205.4,129.7 207.1,130.6 208.8,133.6 210.5,124.1 212.2,130.3 213.9,132.4 215.6,127.8 217.3,132.2 219.0,130.5 220.7,132.3 222.4,138.3 224.1,130.2 225.8,128.4" fill="none" stroke="#5a4aa0" stroke-opacity="0.60" stroke-width="0.75"/><path d="M49.0,137.3 50.7,126.9 52.4,132.2 54.1,127.5 55.8,129.9 57.5,136.4 59.2,130.6 60.9,133.3 62.6,125.6 64.3,130.1 66.0,134.1 67.7,126.6 69.4,134.3 71.1,129.2 72.8,134.6 74.5,126.2 76.2,134.1 77.9,125.2 79.6,131.2 81.3,124.8 83.0,131.5 84.7,128.3 86.4,126.4 88.1,132.9 89.8,129.1 91.5,130.9 93.2,132.8 94.9,127.0 96.6,142.9 98.3,131.1 100.0,130.5 101.7,135.3 103.4,130.7 105.1,133.4 106.8,126.7 108.5,132.9 110.2,125.9 111.9,134.7 113.6,131.0 115.3,132.4 117.0,127.0 118.7,135.2 120.4,130.2 122.1,132.4 123.8,125.6 125.5,129.7 127.2,138.2 128.9,127.5 130.6,132.8 132.3,127.7 134.0,133.2 135.7,127.4 137.4,131.9 139.1,132.0 140.8,127.7 142.5,134.3 144.2,129.8 145.9,136.2 147.6,127.5 149.3,131.5 151.0,129.7 152.7,133.4 154.4,135.0 156.1,137.7 157.8,129.6 159.5,132.5 161.2,128.2 162.9,131.4 164.6,128.1 166.3,130.4 168.0,131.5 169.7,129.4 171.4,136.2 173.1,129.0 174.8,137.5 176.5,128.3 178.2,137.9 179.9,128.5 181.6,132.4 183.3,129.6 185.0,136.0 186.7,128.3 188.4,132.8 190.1,129.8 191.8,131.0 193.5,128.5 195.2,134.2 196.9,132.2 198.6,129.5 200.3,135.1 202.0,128.5 203.7,132.0 205.4,125.9 207.1,134.0 208.8,125.7 210.5,131.1 212.2,124.1 213.9,130.2 215.6,129.3 217.3,132.4 219.0,125.2 220.7,134.2 222.4,125.9 224.1,132.2 225.8,125.4" fill="none" stroke="#5a6ad0" stroke-opacity="0.60" stroke-width="0.75"/><path d="M49.0,135.1 50.7,128.2 52.4,132.5 54.1,127.4 55.8,129.3 57.5,134.7 59.2,130.8 60.9,136.8 62.6,128.6 64.3,132.2 66.0,133.9 67.7,130.1 69.4,132.7 71.1,128.0 72.8,126.7 74.5,130.2 76.2,133.5 77.9,124.5 79.6,131.5 81.3,131.0 83.0,131.7 84.7,130.9 86.4,133.7 88.1,139.6 89.8,126.5 91.5,136.7 93.2,129.1 94.9,132.9 96.6,126.2 98.3,136.3 100.0,128.2 101.7,133.4 103.4,132.8 105.1,125.7 106.8,133.2 108.5,127.5 110.2,133.9 111.9,132.2 113.6,129.7 115.3,125.5 117.0,133.0 118.7,124.9 120.4,132.7 122.1,136.5 123.8,127.7 125.5,134.3 127.2,130.8 128.9,133.2 130.6,131.0 132.3,136.6 134.0,133.9 135.7,130.5 137.4,131.3 139.1,127.9 140.8,131.8 142.5,129.6 144.2,135.2 145.9,131.1 147.6,130.0 149.3,127.8 151.0,137.2 152.7,130.7 154.4,135.6 156.1,127.4 157.8,133.2 159.5,129.7 161.2,139.6 162.9,126.8 164.6,138.7 166.3,130.8 168.0,130.2 169.7,131.8 171.4,125.9 173.1,136.5 174.8,129.4 176.5,134.4 178.2,126.1 179.9,128.4 181.6,130.7 183.3,127.7 185.0,133.5 186.7,129.1 188.4,133.1 190.1,132.8 191.8,131.1 193.5,132.7 195.2,133.2 196.9,130.4 198.6,125.3 200.3,134.7 202.0,124.6 203.7,128.6 205.4,132.1 207.1,132.9 208.8,129.4 210.5,131.3 212.2,128.2 213.9,131.8 215.6,129.2 217.3,135.9 219.0,128.5 220.7,134.5 222.4,120.1 224.1,131.3 225.8,125.2" fill="none" stroke="#50a050" stroke-opacity="0.60" stroke-width="0.75"/><path d="M49.0,133.3 50.7,128.7 52.4,132.2 54.1,128.6 55.8,137.9 57.5,127.3 59.2,131.1 60.9,129.5 62.6,134.8 64.3,131.2 66.0,127.6 67.7,127.7 69.4,133.7 71.1,130.7 72.8,127.6 74.5,132.7 76.2,128.6 77.9,133.4 79.6,135.4 81.3,126.6 83.0,133.0 84.7,125.4 86.4,133.4 88.1,133.4 89.8,130.0 91.5,132.2 93.2,127.6 94.9,131.4 96.6,134.5 98.3,128.8 100.0,139.7 101.7,128.0 103.4,134.3 105.1,126.2 106.8,138.5 108.5,130.0 110.2,136.4 111.9,125.9 113.6,133.5 115.3,127.3 117.0,132.9 118.7,129.1 120.4,132.5 122.1,127.7 123.8,132.9 125.5,128.3 127.2,135.6 128.9,130.0 130.6,127.4 132.3,131.3 134.0,130.4 135.7,136.1 137.4,125.6 139.1,133.7 140.8,130.4 142.5,131.6 144.2,129.5 145.9,136.6 147.6,130.7 149.3,133.3 151.0,130.6 152.7,135.7 154.4,126.7 156.1,132.0 157.8,128.5 159.5,132.7 161.2,126.9 162.9,134.7 164.6,130.1 166.3,137.8 168.0,128.7 169.7,129.2 171.4,131.9 173.1,134.8 174.8,131.2 176.5,130.5 178.2,132.1 179.9,129.8 181.6,132.4 183.3,127.2 185.0,129.9 186.7,135.1 188.4,132.2 190.1,132.8 191.8,130.7 193.5,135.1 195.2,129.4 196.9,126.7 198.6,133.6 200.3,130.3 202.0,131.4 203.7,132.4 205.4,130.7 207.1,134.7 208.8,135.8 210.5,123.9 212.2,126.3 213.9,135.3 215.6,129.5 217.3,131.4 219.0,122.2 220.7,128.1 222.4,125.1 224.1,133.0 225.8,125.3" fill="none" stroke="#c0b030" stroke-opacity="0.60" stroke-width="0.75"/><path d="M49.0,134.1 50.7,132.3 52.4,130.6 54.1,134.1 55.8,132.6 57.5,126.6 59.2,132.2 60.9,130.5 62.6,132.8 64.3,118.0 66.0,135.1 67.7,137.5 69.4,121.5 71.1,134.8 72.8,130.8 74.5,133.5 76.2,128.6 77.9,137.3 79.6,128.1 81.3,133.9 83.0,130.7 84.7,134.3 86.4,129.2 88.1,132.7 89.8,125.9 91.5,132.5 93.2,133.6 94.9,130.6 96.6,132.5 98.3,126.8 100.0,131.4 101.7,125.5 103.4,131.2 105.1,127.1 106.8,132.7 108.5,128.3 110.2,131.3 111.9,128.4 113.6,132.7 115.3,131.8 117.0,127.4 118.7,130.9 120.4,133.5 122.1,130.4 123.8,125.1 125.5,136.2 127.2,130.5 128.9,136.5 130.6,128.5 132.3,129.9 134.0,132.0 135.7,131.2 137.4,129.3 139.1,136.6 140.8,128.8 142.5,128.2 144.2,131.9 145.9,127.3 147.6,133.3 149.3,129.4 151.0,135.3 152.7,130.1 154.4,136.7 156.1,132.1 157.8,129.1 159.5,131.2 161.2,127.6 162.9,124.4 164.6,127.6 166.3,132.9 168.0,132.8 169.7,127.1 171.4,132.0 173.1,130.8 174.8,131.1 176.5,129.5 178.2,137.0 179.9,130.4 181.6,134.0 183.3,132.7 185.0,129.7 186.7,132.9 188.4,127.1 190.1,131.5 191.8,130.1 193.5,132.8 195.2,128.5 196.9,134.1 198.6,122.4 200.3,146.5 202.0,126.1 203.7,138.0 205.4,128.0 207.1,133.1 208.8,130.9 210.5,134.7 212.2,130.7 213.9,142.4 215.6,129.4 217.3,131.3 219.0,132.7 220.7,128.7 222.4,136.4 224.1,129.7 225.8,132.5" fill="none" stroke="#d08050" stroke-opacity="0.60" stroke-width="0.75"/><path d="M49.0,134.2 50.7,129.9 52.4,126.1 54.1,136.6 55.8,129.1 57.5,129.3 59.2,132.5 60.9,130.6 62.6,130.2 64.3,132.7 66.0,127.5 67.7,125.9 69.4,136.4 71.1,130.5 72.8,134.6 74.5,126.7 76.2,130.1 77.9,133.7 79.6,129.5 81.3,134.8 83.0,124.7 84.7,135.0 86.4,129.2 88.1,140.0 89.8,130.7 91.5,132.9 93.2,126.6 94.9,134.2 96.6,132.0 98.3,126.1 100.0,135.5 101.7,125.9 103.4,115.3 105.1,129.5 106.8,132.1 108.5,129.5 110.2,140.1 111.9,130.8 113.6,132.1 115.3,128.7 117.0,127.7 118.7,132.3 120.4,136.1 122.1,129.6 123.8,133.4 125.5,133.5 127.2,130.9 128.9,131.7 130.6,129.0 132.3,134.8 134.0,130.2 135.7,137.9 137.4,129.4 139.1,129.6 140.8,129.0 142.5,131.1 144.2,127.9 145.9,131.1 147.6,134.8 149.3,124.9 151.0,125.8 152.7,134.3 154.4,132.4 156.1,131.6 157.8,131.0 159.5,130.2 161.2,137.8 162.9,134.6 164.6,134.4 166.3,130.6 168.0,131.4 169.7,125.8 171.4,132.0 173.1,128.1 174.8,136.7 176.5,132.5 178.2,121.8 179.9,132.1 181.6,125.0 183.3,126.6 185.0,132.7 186.7,130.2 188.4,136.6 190.1,129.1 191.8,131.2 193.5,137.0 195.2,130.9 196.9,135.5 198.6,123.1 200.3,135.9 202.0,130.4 203.7,134.5 205.4,129.2 207.1,133.9 208.8,127.3 210.5,128.2 212.2,132.5 213.9,128.2 215.6,135.9 217.3,130.1 219.0,137.7 220.7,128.8 222.4,134.7 224.1,127.0 225.8,134.3" fill="none" stroke="#c05050" stroke-opacity="0.60" stroke-width="0.75"/><path d="M49.0,132.3 50.7,129.8 52.4,131.1 54.1,122.6 55.8,135.0 57.5,127.0 59.2,131.7 60.9,128.0 62.6,131.8 64.3,128.5 66.0,130.9 67.7,132.4 69.4,126.7 71.1,134.4 72.8,131.5 74.5,131.5 76.2,125.9 77.9,132.9 79.6,133.1 81.3,129.4 83.0,128.4 84.7,127.6 86.4,131.1 88.1,130.2 89.8,132.6 91.5,133.4 93.2,130.8 94.9,134.4 96.6,131.4 98.3,132.2 100.0,123.5 101.7,132.4 103.4,128.3 105.1,134.9 106.8,130.9 108.5,135.7 110.2,133.8 111.9,131.3 113.6,126.7 115.3,132.2 117.0,129.4 118.7,132.4 120.4,125.9 122.1,133.1 123.8,132.6 125.5,132.2 127.2,128.7 128.9,138.2 130.6,130.2 132.3,131.1 134.0,130.9 135.7,131.8 137.4,126.2 139.1,131.2 140.8,127.8 142.5,132.5 144.2,125.2 145.9,130.5 147.6,134.8 149.3,129.3 151.0,136.9 152.7,128.9 154.4,132.9 156.1,129.3 157.8,130.1 159.5,126.0 161.2,133.6 162.9,133.6 164.6,136.7 166.3,129.9 168.0,133.1 169.7,129.3 171.4,133.0 173.1,131.0 174.8,128.7 176.5,133.7 178.2,129.6 179.9,137.5 181.6,128.8 183.3,136.0 185.0,128.3 186.7,134.1 188.4,129.9 190.1,130.5 191.8,135.1 193.5,131.1 195.2,128.7 196.9,131.9 198.6,125.9 200.3,143.2 202.0,130.2 203.7,134.3 205.4,129.7 207.1,131.6 208.8,129.5 210.5,133.2 212.2,127.8 213.9,139.1 215.6,127.8 217.3,142.2 219.0,130.7 220.7,133.6 222.4,129.1 224.1,128.2 225.8,137.6" fill="none" stroke="#7a5ac0" stroke-opacity="0.60" stroke-width="0.75"/><path d="M49.0,135.3 50.7,130.1 52.4,132.5 54.1,123.8 55.8,131.5 57.5,127.2 59.2,134.0 60.9,129.4 62.6,133.4 64.3,129.0 66.0,131.1 67.7,129.1 69.4,125.1 71.1,133.9 72.8,130.4 74.5,138.4 76.2,135.2 77.9,132.3 79.6,128.4 81.3,134.0 83.0,130.2 84.7,127.0 86.4,129.8 88.1,131.1 89.8,129.5 91.5,130.0 93.2,133.9 94.9,128.8 96.6,131.5 98.3,131.0 100.0,133.1 101.7,129.0 103.4,133.9 105.1,129.5 106.8,135.1 108.5,130.6 110.2,133.4 111.9,126.6 113.6,136.7 115.3,137.6 117.0,130.7 118.7,134.7 120.4,127.9 122.1,124.7 123.8,133.5 125.5,131.4 127.2,127.6 128.9,133.6 130.6,130.5 132.3,134.9 134.0,129.0 135.7,132.6 137.4,133.1 139.1,132.2 140.8,122.4 142.5,135.6 144.2,121.2 145.9,131.9 147.6,129.4 149.3,134.3 151.0,128.7 152.7,131.5 154.4,127.3 156.1,137.1 157.8,124.6 159.5,132.0 161.2,129.3 162.9,133.7 164.6,130.0 166.3,133.5 168.0,138.0 169.7,128.5 171.4,137.7 173.1,129.5 174.8,134.7 176.5,130.8 178.2,132.4 179.9,123.0 181.6,135.4 183.3,127.2 185.0,133.6 186.7,135.4 188.4,134.1 190.1,129.1 191.8,130.9 193.5,131.4 195.2,129.9 196.9,132.1 198.6,130.0 200.3,131.2 202.0,125.1 203.7,128.0 205.4,131.6 207.1,129.0 208.8,133.2 210.5,126.7 212.2,131.5 213.9,128.7 215.6,132.2 217.3,122.3 219.0,137.6 220.7,130.4 222.4,135.8 224.1,130.5 225.8,133.4" fill="none" stroke="#5a4aa0" stroke-opacity="0.60" stroke-width="0.75"/><path d="M49.0,137.0 50.7,125.1 52.4,136.3 54.1,135.0 55.8,133.6 57.5,133.6 59.2,127.3 60.9,131.3 62.6,124.7 64.3,134.6 66.0,127.5 67.7,134.2 69.4,127.1 71.1,132.4 72.8,133.6 74.5,129.5 76.2,131.1 77.9,131.2 79.6,134.1 81.3,131.8 83.0,130.0 84.7,134.1 86.4,133.5 88.1,130.1 89.8,135.7 91.5,133.4 93.2,128.2 94.9,136.0 96.6,129.0 98.3,129.0 100.0,138.7 101.7,134.4 103.4,127.4 105.1,130.5 106.8,133.7 108.5,123.9 110.2,134.8 111.9,128.6 113.6,128.4 115.3,132.8 117.0,130.8 118.7,138.2 120.4,136.3 122.1,129.4 123.8,133.0 125.5,127.7 127.2,128.7 128.9,133.9 130.6,130.1 132.3,133.5 134.0,129.8 135.7,132.6 137.4,128.0 139.1,131.9 140.8,126.3 142.5,131.8 144.2,129.1 145.9,131.1 147.6,128.9 149.3,132.8 151.0,126.4 152.7,133.6 154.4,129.3 156.1,132.0 157.8,124.5 159.5,131.4 161.2,129.3 162.9,125.4 164.6,136.6 166.3,134.2 168.0,127.7 169.7,133.5 171.4,131.8 173.1,132.2 174.8,135.2 176.5,128.2 178.2,132.0 179.9,131.6 181.6,133.0 183.3,129.7 185.0,131.3 186.7,127.9 188.4,132.2 190.1,127.8 191.8,133.9 193.5,132.7 195.2,128.3 196.9,131.2 198.6,127.3 200.3,133.6 202.0,127.3 203.7,134.7 205.4,130.0 207.1,131.7 208.8,127.7 210.5,133.3 212.2,126.5 213.9,132.4 215.6,134.0 217.3,130.5 219.0,123.8 220.7,128.3 222.4,136.7 224.1,128.7 225.8,137.4" fill="none" stroke="#5a6ad0" stroke-opacity="0.60" stroke-width="0.75"/><path d="M49.0,136.2 50.7,134.6 52.4,130.9 54.1,136.0 55.8,135.1 57.5,130.8 59.2,133.7 60.9,123.9 62.6,134.4 64.3,133.3 66.0,129.7 67.7,134.5 69.4,130.5 71.1,127.4 72.8,131.6 74.5,127.3 76.2,139.4 77.9,130.4 79.6,133.1 81.3,131.9 83.0,130.5 84.7,134.9 86.4,130.5 88.1,135.4 89.8,128.3 91.5,131.9 93.2,130.1 94.9,129.1 96.6,131.8 98.3,127.4 100.0,131.8 101.7,126.5 103.4,134.1 105.1,125.5 106.8,120.7 108.5,125.0 110.2,131.1 111.9,129.0 113.6,134.2 115.3,129.1 117.0,129.9 118.7,129.3 120.4,132.4 122.1,128.5 123.8,131.5 125.5,126.7 127.2,132.6 128.9,129.2 130.6,132.8 132.3,128.8 134.0,131.6 135.7,128.1 137.4,133.6 139.1,130.8 140.8,133.5 142.5,129.1 144.2,138.7 145.9,130.6 147.6,132.3 149.3,128.6 151.0,128.9 152.7,129.1 154.4,132.3 156.1,128.9 157.8,127.5 159.5,141.0 161.2,127.9 162.9,133.3 164.6,133.9 166.3,126.8 168.0,134.6 169.7,130.8 171.4,131.4 173.1,124.9 174.8,130.7 176.5,138.6 178.2,129.7 179.9,132.4 181.6,131.0 183.3,122.7 185.0,132.3 186.7,130.8 188.4,131.9 190.1,129.5 191.8,131.4 193.5,127.3 195.2,132.3 196.9,129.9 198.6,135.6 200.3,131.2 202.0,132.3 203.7,127.8 205.4,135.2 207.1,121.9 208.8,135.7 210.5,127.7 212.2,131.5 213.9,126.5 215.6,133.1 217.3,129.3 219.0,129.5 220.7,130.2 222.4,128.2 224.1,131.1 225.8,130.9" fill="none" stroke="#50a050" stroke-opacity="0.60" stroke-width="0.75"/><path d="M49.0,134.7 50.7,129.6 52.4,131.9 54.1,128.9 55.8,137.0 57.5,123.1 59.2,128.6 60.9,134.9 62.6,128.3 64.3,133.3 66.0,130.7 67.7,137.4 69.4,128.4 71.1,131.1 72.8,126.9 74.5,137.6 76.2,130.1 77.9,134.2 79.6,129.2 81.3,132.1 83.0,126.1 84.7,133.8 86.4,130.8 88.1,132.7 89.8,131.9 91.5,132.0 93.2,133.7 94.9,125.8 96.6,129.8 98.3,131.3 100.0,130.7 101.7,134.2 103.4,127.5 105.1,137.2 106.8,131.9 108.5,130.4 110.2,132.8 111.9,130.3 113.6,134.4 115.3,125.6 117.0,132.0 118.7,126.9 120.4,132.0 122.1,131.7 123.8,128.4 125.5,131.5 127.2,129.6 128.9,132.5 130.6,130.6 132.3,131.4 134.0,128.8 135.7,134.6 137.4,130.1 139.1,131.3 140.8,129.2 142.5,128.5 144.2,132.9 145.9,125.4 147.6,131.6 149.3,129.3 151.0,133.8 152.7,137.1 154.4,129.3 156.1,132.5 157.8,129.7 159.5,134.3 161.2,133.8 162.9,126.0 164.6,128.7 166.3,131.5 168.0,129.7 169.7,136.6 171.4,131.5 173.1,126.4 174.8,131.4 176.5,130.1 178.2,132.0 179.9,133.8 181.6,129.9 183.3,133.1 185.0,138.5 186.7,124.5 188.4,131.0 190.1,129.8 191.8,134.8 193.5,129.8 195.2,131.8 196.9,130.4 198.6,129.8 200.3,134.0 202.0,130.2 203.7,134.7 205.4,129.4 207.1,134.3 208.8,130.7 210.5,134.8 212.2,124.3 213.9,132.4 215.6,128.3 217.3,138.7 219.0,133.5 220.7,130.5 222.4,131.7 224.1,127.5 225.8,133.0" fill="none" stroke="#c0b030" stroke-opacity="0.60" stroke-width="0.75"/><path d="M49.0,133.5 50.7,131.5 52.4,127.8 54.1,132.8 55.8,128.5 57.5,132.8 59.2,131.9 60.9,127.5 62.6,126.5 64.3,132.2 66.0,134.1 67.7,131.1 69.4,129.1 71.1,136.5 72.8,129.6 74.5,134.9 76.2,127.8 77.9,131.4 79.6,130.7 81.3,126.6 83.0,134.3 84.7,129.1 86.4,136.4 88.1,140.1 89.8,127.1 91.5,131.2 93.2,127.4 94.9,130.8 96.6,135.4 98.3,127.6 100.0,132.3 101.7,127.5 103.4,138.4 105.1,124.5 106.8,127.0 108.5,128.0 110.2,133.3 111.9,130.8 113.6,132.8 115.3,133.0 117.0,122.1 118.7,133.2 120.4,127.7 122.1,133.2 123.8,130.0 125.5,131.3 127.2,128.4 128.9,135.2 130.6,132.0 132.3,133.8 134.0,135.4 135.7,129.0 137.4,131.2 139.1,129.7 140.8,131.2 142.5,128.4 144.2,127.7 145.9,132.4 147.6,132.5 149.3,126.0 151.0,136.2 152.7,121.6 154.4,126.4 156.1,136.6 157.8,128.3 159.5,131.5 161.2,121.1 162.9,138.5 164.6,128.7 166.3,131.7 168.0,131.9 169.7,130.2 171.4,126.0 173.1,124.9 174.8,127.9 176.5,124.3 178.2,136.7 179.9,130.1 181.6,133.5 183.3,127.2 185.0,128.3 186.7,128.0 188.4,134.7 190.1,134.0 191.8,130.3 193.5,131.4 195.2,136.9 196.9,129.1 198.6,132.7 200.3,127.6 202.0,131.0 203.7,126.4 205.4,133.8 207.1,129.8 208.8,132.6 210.5,127.8 212.2,132.6 213.9,126.7 215.6,132.2 217.3,135.2 219.0,130.7 220.7,133.0 222.4,131.7 224.1,130.7 225.8,134.5" fill="none" stroke="#d08050" stroke-opacity="0.60" stroke-width="0.75"/></g>
<g><path d="M262.0,134.8 263.7,128.1 265.4,127.9 267.1,134.9 268.8,128.2 270.5,131.5 272.2,125.5 273.9,128.8 275.6,129.0 277.3,132.9 279.0,120.8 280.7,134.5 282.4,130.6 284.1,125.9 285.8,130.1 287.5,128.0 289.2,131.6 290.9,128.3 292.6,131.1 294.3,128.8 296.0,135.1 297.7,127.1 299.4,131.6 301.1,130.6 302.8,136.0 304.5,126.2 306.2,135.6 307.9,127.1 309.6,132.7 311.3,127.9 313.0,133.6 314.7,129.6 316.4,130.3 318.1,134.7 319.8,131.0 321.5,125.1 323.2,137.1 324.9,127.7 326.6,133.3 328.3,130.3 330.0,127.5 331.7,134.0 333.4,133.3 335.1,127.9 336.8,130.8 338.5,132.9 340.2,133.1 341.9,132.0 343.6,127.2 345.3,128.3 347.0,133.5 348.7,126.8 350.4,132.4 352.1,129.5 353.8,134.6 355.5,130.8 357.2,136.2 358.9,126.9 360.6,128.7 362.3,128.6 364.0,128.9 365.7,133.3 367.4,133.2 369.1,131.9 370.8,128.8 372.5,132.8 374.2,130.3 375.9,131.9 377.6,129.5 379.3,135.4 381.0,132.4 382.7,130.1 384.4,131.6 386.1,131.1 387.8,126.6 389.5,135.7 391.2,127.5 392.9,129.2 394.6,133.7 396.3,129.7 398.0,134.3 399.7,129.0 401.4,131.2 403.1,130.1 404.8,128.4 406.5,133.0 408.2,131.6 409.9,129.0 411.6,136.6 413.3,125.5 415.0,131.5 416.7,130.2 418.4,131.6 420.1,127.5 421.8,132.8 423.5,125.6 425.2,130.0 426.9,135.0 428.6,131.9 430.3,131.1 432.0,127.3 433.7,129.3 435.4,131.6 437.1,126.1 438.8,135.8 440.5,130.9 442.2,131.7 443.9,130.5 445.6,131.1 447.3,129.2 449.0,133.5 450.7,129.1 452.4,129.1 454.1,131.1 455.8,127.4 457.5,126.2 459.2,134.6 460.9,131.0 462.6,131.8 464.3,126.0 466.0,137.7 467.7,129.1 469.4,123.7 471.1,132.0 472.8,130.3 474.5,123.0" fill="none" stroke="#d8d040" stroke-opacity="0.45" stroke-width="0.70"/><path d="M262.0,134.8 263.7,129.2 265.4,135.7 267.1,130.5 268.8,132.3 270.5,139.8 272.2,125.8 273.9,135.8 275.6,127.2 277.3,132.7 279.0,135.1 280.7,136.3 282.4,125.7 284.1,133.5 285.8,124.2 287.5,128.8 289.2,137.2 290.9,131.0 292.6,127.1 294.3,132.8 296.0,133.2 297.7,127.4 299.4,129.7 301.1,131.8 302.8,130.5 304.5,131.7 306.2,132.7 307.9,132.1 309.6,134.3 311.3,127.6 313.0,134.5 314.7,129.6 316.4,131.2 318.1,128.0 319.8,134.3 321.5,129.6 323.2,134.2 324.9,130.3 326.6,131.7 328.3,126.3 330.0,134.7 331.7,125.9 333.4,133.8 335.1,129.4 336.8,134.4 338.5,131.8 340.2,130.6 341.9,130.0 343.6,131.3 345.3,128.9 347.0,132.9 348.7,129.5 350.4,134.1 352.1,130.3 353.8,131.0 355.5,134.4 357.2,128.6 358.9,134.0 360.6,126.7 362.3,130.8 364.0,135.7 365.7,127.1 367.4,129.9 369.1,135.0 370.8,129.9 372.5,132.7 374.2,130.8 375.9,133.3 377.6,128.9 379.3,131.3 381.0,131.6 382.7,127.7 384.4,127.8 386.1,123.6 387.8,136.5 389.5,130.2 391.2,132.2 392.9,128.7 394.6,133.1 396.3,131.5 398.0,130.7 399.7,131.1 401.4,130.5 403.1,132.5 404.8,124.8 406.5,131.7 408.2,128.5 409.9,131.1 411.6,127.3 413.3,134.0 415.0,128.4 416.7,132.2 418.4,130.2 420.1,133.0 421.8,129.2 423.5,131.1 425.2,127.9 426.9,129.5 428.6,128.6 430.3,134.4 432.0,128.2 433.7,131.6 435.4,135.9 437.1,130.1 438.8,133.2 440.5,130.3 442.2,125.9 443.9,131.2 445.6,131.0 447.3,128.6 449.0,134.3 450.7,128.8 452.4,135.0 454.1,130.6 455.8,133.5 457.5,127.1 459.2,132.9 460.9,131.6 462.6,127.5 464.3,134.4 466.0,128.2 467.7,136.3 469.4,128.0 471.1,133.2 472.8,129.2 474.5,133.9" fill="none" stroke="#80c060" stroke-opacity="0.45" stroke-width="0.70"/><path d="M262.0,131.8 263.7,128.0 265.4,131.8 267.1,128.3 268.8,135.1 270.5,129.4 272.2,132.4 273.9,130.6 275.6,126.3 277.3,134.2 279.0,136.1 280.7,126.8 282.4,129.2 284.1,137.8 285.8,129.5 287.5,134.2 289.2,126.8 290.9,133.2 292.6,127.3 294.3,132.0 296.0,130.3 297.7,134.4 299.4,126.6 301.1,131.7 302.8,133.6 304.5,128.3 306.2,137.4 307.9,127.8 309.6,133.5 311.3,128.5 313.0,130.6 314.7,136.5 316.4,127.3 318.1,131.3 319.8,130.4 321.5,131.3 323.2,129.1 324.9,131.7 326.6,127.3 328.3,127.0 330.0,132.6 331.7,129.4 333.4,132.4 335.1,129.1 336.8,136.9 338.5,129.6 340.2,131.8 341.9,135.1 343.6,125.0 345.3,133.8 347.0,126.3 348.7,137.1 350.4,138.3 352.1,128.5 353.8,134.7 355.5,128.4 357.2,130.5 358.9,131.6 360.6,127.1 362.3,129.0 364.0,132.0 365.7,119.9 367.4,133.8 369.1,125.9 370.8,135.0 372.5,132.1 374.2,129.5 375.9,138.4 377.6,128.2 379.3,136.4 381.0,129.6 382.7,125.2 384.4,133.2 386.1,128.7 387.8,133.6 389.5,130.6 391.2,132.4 392.9,141.1 394.6,130.5 396.3,131.5 398.0,135.3 399.7,130.8 401.4,135.5 403.1,135.5 404.8,128.9 406.5,131.5 408.2,128.1 409.9,138.3 411.6,129.5 413.3,131.1 415.0,128.6 416.7,131.5 418.4,124.8 420.1,132.7 421.8,128.7 423.5,136.1 425.2,128.3 426.9,133.3 428.6,124.9 430.3,122.9 432.0,134.6 433.7,128.8 435.4,131.1 437.1,125.9 438.8,134.3 440.5,128.6 442.2,128.2 443.9,133.5 445.6,134.1 447.3,131.2 449.0,129.7 450.7,131.6 452.4,128.3 454.1,133.8 455.8,124.6 457.5,134.8 459.2,126.4 460.9,134.4 462.6,125.4 464.3,131.3 466.0,128.8 467.7,128.8 469.4,138.0 471.1,128.8 472.8,128.7 474.5,137.5" fill="none" stroke="#6a60d0" stroke-opacity="0.45" stroke-width="0.70"/><path d="M262.0,133.7 263.7,129.0 265.4,131.7 267.1,128.8 268.8,133.3 270.5,130.0 272.2,134.8 273.9,133.5 275.6,127.7 277.3,134.1 279.0,128.6 280.7,135.0 282.4,132.2 284.1,126.3 285.8,135.2 287.5,129.3 289.2,131.7 290.9,138.4 292.6,130.2 294.3,131.3 296.0,128.8 297.7,129.5 299.4,131.7 301.1,132.6 302.8,130.4 304.5,130.7 306.2,131.9 307.9,129.1 309.6,132.7 311.3,131.1 313.0,128.4 314.7,134.1 316.4,128.2 318.1,136.5 319.8,129.4 321.5,132.3 323.2,128.7 324.9,137.6 326.6,135.9 328.3,133.0 330.0,132.4 331.7,130.5 333.4,135.0 335.1,130.0 336.8,124.8 338.5,131.1 340.2,131.2 341.9,132.4 343.6,123.8 345.3,129.9 347.0,133.3 348.7,128.6 350.4,129.8 352.1,134.9 353.8,130.8 355.5,133.8 357.2,133.6 358.9,138.5 360.6,127.6 362.3,132.1 364.0,129.1 365.7,134.1 367.4,130.9 369.1,132.5 370.8,133.3 372.5,128.6 374.2,134.8 375.9,130.4 377.6,133.8 379.3,130.5 381.0,133.6 382.7,128.0 384.4,130.0 386.1,132.2 387.8,129.4 389.5,134.5 391.2,129.0 392.9,136.0 394.6,128.7 396.3,131.1 398.0,128.0 399.7,131.1 401.4,123.8 403.1,132.7 404.8,122.8 406.5,131.5 408.2,126.7 409.9,128.3 411.6,132.6 413.3,127.6 415.0,132.3 416.7,127.1 418.4,134.2 420.1,124.1 421.8,132.8 423.5,126.4 425.2,130.8 426.9,136.6 428.6,130.1 430.3,134.0 432.0,129.5 433.7,133.6 435.4,126.9 437.1,132.4 438.8,128.2 440.5,138.0 442.2,130.7 443.9,134.2 445.6,126.8 447.3,131.4 449.0,127.9 450.7,134.7 452.4,127.9 454.1,137.9 455.8,129.9 457.5,135.5 459.2,133.0 460.9,129.5 462.6,134.8 464.3,132.3 466.0,133.3 467.7,130.3 469.4,124.3 471.1,132.3 472.8,133.6 474.5,135.5" fill="none" stroke="#c8c840" stroke-opacity="0.45" stroke-width="0.70"/><path d="M262.0,131.3 263.7,130.4 265.4,133.9 267.1,125.7 268.8,126.8 270.5,132.3 272.2,127.9 273.9,133.8 275.6,127.4 277.3,135.9 279.0,128.8 280.7,130.5 282.4,134.5 284.1,129.3 285.8,133.9 287.5,130.7 289.2,136.3 290.9,128.1 292.6,123.5 294.3,131.1 296.0,129.6 297.7,132.8 299.4,129.3 301.1,133.2 302.8,125.9 304.5,129.8 306.2,134.3 307.9,129.3 309.6,136.5 311.3,129.8 313.0,135.3 314.7,125.8 316.4,132.5 318.1,129.0 319.8,132.5 321.5,131.0 323.2,126.4 324.9,134.6 326.6,128.6 328.3,133.6 330.0,128.7 331.7,132.3 333.4,127.0 335.1,132.0 336.8,128.5 338.5,128.6 340.2,133.1 341.9,130.7 343.6,132.8 345.3,129.0 347.0,134.7 348.7,130.1 350.4,131.8 352.1,124.2 353.8,132.0 355.5,127.7 357.2,134.7 358.9,128.5 360.6,131.5 362.3,126.4 364.0,131.0 365.7,135.3 367.4,129.0 369.1,132.6 370.8,125.0 372.5,131.4 374.2,134.8 375.9,126.6 377.6,134.6 379.3,129.7 381.0,131.4 382.7,131.5 384.4,128.8 386.1,131.4 387.8,128.4 389.5,136.3 391.2,128.9 392.9,129.5 394.6,133.3 396.3,129.8 398.0,134.7 399.7,134.7 401.4,125.4 403.1,132.1 404.8,130.6 406.5,131.5 408.2,127.2 409.9,131.8 411.6,134.3 413.3,129.9 415.0,131.2 416.7,129.8 418.4,132.6 420.1,127.0 421.8,133.2 423.5,127.6 425.2,128.3 426.9,132.3 428.6,127.9 430.3,127.6 432.0,131.6 433.7,130.0 435.4,131.2 437.1,130.3 438.8,134.6 440.5,129.9 442.2,131.7 443.9,133.1 445.6,123.4 447.3,136.2 449.0,130.8 450.7,134.1 452.4,129.0 454.1,131.2 455.8,129.2 457.5,136.8 459.2,128.5 460.9,136.5 462.6,126.7 464.3,133.7 466.0,129.7 467.7,131.4 469.4,132.1 471.1,126.1 472.8,128.1 474.5,132.2" fill="none" stroke="#e8a060" stroke-opacity="0.45" stroke-width="0.70"/><path d="M262.0,134.4 263.7,126.2 265.4,133.4 267.1,133.2 268.8,132.5 270.5,129.8 272.2,132.5 273.9,134.3 275.6,130.3 277.3,129.5 279.0,121.2 280.7,132.7 282.4,127.2 284.1,132.6 285.8,129.9 287.5,137.4 289.2,129.5 290.9,131.6 292.6,131.0 294.3,135.4 296.0,136.2 297.7,120.6 299.4,136.5 301.1,130.2 302.8,126.1 304.5,134.5 306.2,128.4 307.9,132.5 309.6,131.1 311.3,130.0 313.0,132.1 314.7,130.7 316.4,132.8 318.1,135.5 319.8,132.5 321.5,130.4 323.2,132.9 324.9,130.7 326.6,134.1 328.3,126.6 330.0,126.9 331.7,131.7 333.4,129.2 335.1,130.5 336.8,134.2 338.5,130.4 340.2,134.6 341.9,126.6 343.6,134.4 345.3,131.1 347.0,125.9 348.7,129.1 350.4,129.4 352.1,131.7 353.8,128.7 355.5,132.3 357.2,134.5 358.9,130.3 360.6,130.3 362.3,136.4 364.0,125.4 365.7,132.0 367.4,126.3 369.1,137.5 370.8,128.6 372.5,130.7 374.2,124.1 375.9,136.7 377.6,135.8 379.3,129.5 381.0,127.0 382.7,131.5 384.4,124.2 386.1,132.8 387.8,130.7 389.5,132.2 391.2,128.5 392.9,135.7 394.6,129.1 396.3,132.7 398.0,129.4 399.7,131.7 401.4,130.0 403.1,132.1 404.8,120.6 406.5,132.5 408.2,132.2 409.9,128.6 411.6,132.4 413.3,124.9 415.0,132.4 416.7,133.2 418.4,136.6 420.1,125.5 421.8,130.4 423.5,133.4 425.2,130.6 426.9,132.7 428.6,130.0 430.3,128.7 432.0,131.4 433.7,133.6 435.4,126.7 437.1,132.1 438.8,124.4 440.5,133.6 442.2,126.0 443.9,133.9 445.6,127.1 447.3,132.0 449.0,128.7 450.7,134.8 452.4,136.4 454.1,128.5 455.8,135.1 457.5,128.3 459.2,133.3 460.9,125.7 462.6,135.2 464.3,130.6 466.0,133.4 467.7,131.9 469.4,132.1 471.1,129.7 472.8,135.2 474.5,130.2" fill="none" stroke="#90a0e0" stroke-opacity="0.45" stroke-width="0.70"/><path d="M262.0,131.5 263.7,128.6 265.4,131.0 267.1,125.5 268.8,132.3 270.5,128.4 272.2,131.1 273.9,127.5 275.6,132.2 277.3,130.9 279.0,132.4 280.7,128.8 282.4,131.3 284.1,123.7 285.8,138.9 287.5,130.0 289.2,134.4 290.9,129.1 292.6,132.9 294.3,129.5 296.0,129.8 297.7,132.3 299.4,132.4 301.1,127.1 302.8,128.2 304.5,131.0 306.2,129.4 307.9,132.1 309.6,130.9 311.3,131.2 313.0,129.3 314.7,131.2 316.4,129.4 318.1,131.8 319.8,129.6 321.5,133.0 323.2,130.8 324.9,137.2 326.6,137.1 328.3,130.7 330.0,133.2 331.7,129.8 333.4,132.4 335.1,130.7 336.8,137.6 338.5,126.1 340.2,132.4 341.9,134.3 343.6,125.4 345.3,132.0 347.0,129.4 348.7,133.8 350.4,130.4 352.1,126.7 353.8,137.1 355.5,125.7 357.2,133.7 358.9,129.4 360.6,131.3 362.3,136.2 364.0,128.3 365.7,129.9 367.4,131.4 369.1,128.5 370.8,133.3 372.5,127.2 374.2,131.5 375.9,127.7 377.6,135.4 379.3,128.9 381.0,132.0 382.7,129.3 384.4,137.9 386.1,130.5 387.8,134.2 389.5,129.4 391.2,131.9 392.9,127.6 394.6,132.1 396.3,128.6 398.0,132.2 399.7,130.3 401.4,132.3 403.1,125.9 404.8,131.1 406.5,130.0 408.2,133.8 409.9,136.9 411.6,130.0 413.3,130.7 415.0,135.2 416.7,135.6 418.4,125.6 420.1,134.4 421.8,132.8 423.5,131.3 425.2,132.9 426.9,125.3 428.6,130.3 430.3,138.2 432.0,131.6 433.7,127.5 435.4,129.0 437.1,132.2 438.8,134.1 440.5,134.1 442.2,134.4 443.9,130.8 445.6,136.6 447.3,126.5 449.0,133.9 450.7,128.8 452.4,132.0 454.1,130.1 455.8,134.8 457.5,132.6 459.2,130.1 460.9,132.4 462.6,124.2 464.3,131.7 466.0,127.0 467.7,128.1 469.4,134.1 471.1,126.6 472.8,137.4 474.5,129.7" fill="none" stroke="#a0c860" stroke-opacity="0.45" stroke-width="0.70"/><path d="M262.0,134.0 263.7,128.0 265.4,132.8 267.1,126.1 268.8,133.4 270.5,128.9 272.2,132.9 273.9,136.2 275.6,131.6 277.3,128.4 279.0,129.9 280.7,128.0 282.4,131.2 284.1,138.1 285.8,129.7 287.5,132.9 289.2,130.2 290.9,126.4 292.6,132.5 294.3,131.3 296.0,129.9 297.7,131.8 299.4,129.9 301.1,131.7 302.8,130.1 304.5,128.3 306.2,134.7 307.9,136.0 309.6,127.8 311.3,130.0 313.0,132.8 314.7,134.2 316.4,130.5 318.1,127.1 319.8,130.3 321.5,134.0 323.2,137.2 324.9,129.8 326.6,132.1 328.3,128.0 330.0,132.3 331.7,128.6 333.4,131.1 335.1,129.3 336.8,129.9 338.5,134.5 340.2,130.2 341.9,129.0 343.6,132.6 345.3,130.5 347.0,131.1 348.7,127.5 350.4,131.0 352.1,127.7 353.8,133.5 355.5,126.6 357.2,131.1 358.9,130.1 360.6,136.6 362.3,128.6 364.0,132.6 365.7,130.2 367.4,131.1 369.1,127.6 370.8,132.5 372.5,126.9 374.2,133.6 375.9,132.9 377.6,131.2 379.3,127.8 381.0,132.2 382.7,133.2 384.4,129.4 386.1,132.7 387.8,129.0 389.5,127.2 391.2,134.4 392.9,129.6 394.6,131.0 396.3,134.8 398.0,129.1 399.7,132.1 401.4,127.5 403.1,135.7 404.8,130.3 406.5,135.0 408.2,127.2 409.9,139.1 411.6,129.0 413.3,132.3 415.0,125.7 416.7,129.2 418.4,131.8 420.1,126.7 421.8,133.7 423.5,125.2 425.2,132.6 426.9,124.3 428.6,131.4 430.3,129.8 432.0,133.8 433.7,127.7 435.4,132.3 437.1,128.4 438.8,133.3 440.5,130.1 442.2,131.4 443.9,128.2 445.6,135.1 447.3,130.8 449.0,131.0 450.7,130.0 452.4,134.3 454.1,127.9 455.8,133.8 457.5,129.9 459.2,129.8 460.9,135.9 462.6,129.0 464.3,130.2 466.0,126.5 467.7,131.5 469.4,129.6 471.1,133.2 472.8,129.3 474.5,129.9" fill="none" stroke="#d07070" stroke-opacity="0.45" stroke-width="0.70"/><path d="M262.0,132.0 263.7,129.1 265.4,126.8 267.1,131.4 268.8,130.3 270.5,136.1 272.2,138.9 273.9,130.2 275.6,133.9 277.3,130.3 279.0,132.0 280.7,128.7 282.4,132.3 284.1,129.4 285.8,129.6 287.5,131.5 289.2,129.9 290.9,133.3 292.6,129.2 294.3,127.1 296.0,131.3 297.7,126.6 299.4,131.1 301.1,135.1 302.8,129.4 304.5,131.5 306.2,129.8 307.9,132.0 309.6,129.1 311.3,132.1 313.0,127.4 314.7,135.5 316.4,130.5 318.1,134.5 319.8,129.0 321.5,132.6 323.2,127.8 324.9,136.1 326.6,126.4 328.3,132.1 330.0,127.3 331.7,132.5 333.4,132.3 335.1,125.9 336.8,131.7 338.5,130.6 340.2,135.1 341.9,127.8 343.6,132.1 345.3,132.5 347.0,126.8 348.7,133.9 350.4,130.8 352.1,132.6 353.8,128.6 355.5,135.6 357.2,132.4 358.9,129.2 360.6,129.8 362.3,132.5 364.0,129.3 365.7,131.9 367.4,132.1 369.1,139.5 370.8,128.2 372.5,131.5 374.2,137.4 375.9,132.6 377.6,124.0 379.3,133.1 381.0,132.6 382.7,129.2 384.4,131.1 386.1,129.1 387.8,132.9 389.5,127.8 391.2,138.6 392.9,125.7 394.6,134.3 396.3,127.9 398.0,131.4 399.7,129.7 401.4,133.0 403.1,123.2 404.8,132.6 406.5,126.3 408.2,124.0 409.9,132.1 411.6,131.8 413.3,125.9 415.0,131.4 416.7,130.4 418.4,132.1 420.1,131.6 421.8,127.3 423.5,134.0 425.2,132.6 426.9,131.4 428.6,129.9 430.3,135.6 432.0,128.3 433.7,135.6 435.4,126.1 437.1,138.2 438.8,128.3 440.5,131.5 442.2,127.1 443.9,128.0 445.6,136.9 447.3,130.2 449.0,129.7 450.7,127.4 452.4,131.0 454.1,135.2 455.8,132.8 457.5,129.6 459.2,132.6 460.9,126.5 462.6,132.9 464.3,127.9 466.0,135.0 467.7,130.8 469.4,131.5 471.1,126.2 472.8,130.1 474.5,132.7" fill="none" stroke="#d8d040" stroke-opacity="0.45" stroke-width="0.70"/><path d="M262.0,131.8 263.7,124.8 265.4,132.7 267.1,130.0 268.8,133.4 270.5,129.5 272.2,131.9 273.9,125.2 275.6,127.0 277.3,131.0 279.0,141.6 280.7,139.7 282.4,127.5 284.1,133.4 285.8,126.7 287.5,131.5 289.2,125.7 290.9,131.5 292.6,127.7 294.3,132.8 296.0,127.3 297.7,134.2 299.4,126.3 301.1,132.5 302.8,127.0 304.5,132.0 306.2,128.1 307.9,134.7 309.6,130.5 311.3,131.9 313.0,131.0 314.7,133.3 316.4,127.1 318.1,133.7 319.8,127.5 321.5,136.4 323.2,135.6 324.9,127.2 326.6,130.3 328.3,134.2 330.0,131.8 331.7,129.4 333.4,130.7 335.1,134.9 336.8,125.0 338.5,133.5 340.2,129.2 341.9,134.3 343.6,130.6 345.3,135.3 347.0,129.3 348.7,133.1 350.4,129.8 352.1,128.7 353.8,136.3 355.5,131.5 357.2,127.5 358.9,132.6 360.6,125.8 362.3,132.3 364.0,127.1 365.7,131.2 367.4,130.1 369.1,134.8 370.8,132.4 372.5,129.0 374.2,131.0 375.9,129.1 377.6,138.9 379.3,126.9 381.0,133.0 382.7,135.7 384.4,128.8 386.1,131.8 387.8,124.3 389.5,131.9 391.2,129.2 392.9,131.9 394.6,132.3 396.3,124.9 398.0,140.7 399.7,128.4 401.4,132.5 403.1,126.3 404.8,133.7 406.5,122.0 408.2,134.7 409.9,129.6 411.6,130.1 413.3,132.0 415.0,126.5 416.7,136.3 418.4,127.2 420.1,131.3 421.8,130.7 423.5,131.8 425.2,129.0 426.9,126.0 428.6,132.0 430.3,129.9 432.0,128.2 433.7,133.7 435.4,129.7 437.1,133.0 438.8,128.4 440.5,131.3 442.2,130.0 443.9,132.9 445.6,128.4 447.3,128.5 449.0,129.7 450.7,133.6 452.4,125.6 454.1,132.0 455.8,128.2 457.5,131.7 459.2,131.5 460.9,128.0 462.6,131.6 464.3,135.9 466.0,130.2 467.7,133.4 469.4,128.5 471.1,135.2 472.8,122.1 474.5,132.4" fill="none" stroke="#80c060" stroke-opacity="0.45" stroke-width="0.70"/><path d="M262.0,133.8 263.7,130.6 265.4,143.8 267.1,126.1 268.8,132.7 270.5,133.3 272.2,125.8 273.9,130.9 275.6,130.8 277.3,135.2 279.0,130.5 280.7,135.9 282.4,127.4 284.1,132.2 285.8,131.1 287.5,129.2 289.2,134.1 290.9,128.0 292.6,131.8 294.3,133.5 296.0,131.3 297.7,129.1 299.4,132.4 301.1,128.6 302.8,130.3 304.5,132.7 306.2,132.9 307.9,129.7 309.6,138.2 311.3,120.5 313.0,134.8 314.7,130.6 316.4,131.3 318.1,135.5 319.8,126.3 321.5,131.1 323.2,127.0 324.9,135.4 326.6,133.6 328.3,125.8 330.0,138.5 331.7,128.6 333.4,136.2 335.1,129.1 336.8,136.3 338.5,127.0 340.2,133.5 341.9,126.2 343.6,133.1 345.3,130.4 347.0,134.4 348.7,128.5 350.4,137.2 352.1,123.3 353.8,131.3 355.5,122.9 357.2,128.1 358.9,131.2 360.6,128.9 362.3,133.1 364.0,123.7 365.7,131.7 367.4,135.8 369.1,126.1 370.8,132.2 372.5,130.4 374.2,133.4 375.9,127.6 377.6,134.7 379.3,126.8 381.0,132.3 382.7,126.8 384.4,133.0 386.1,130.3 387.8,130.6 389.5,134.2 391.2,125.4 392.9,131.9 394.6,128.6 396.3,128.7 398.0,136.3 399.7,133.6 401.4,129.2 403.1,131.3 404.8,127.5 406.5,133.4 408.2,130.7 409.9,132.8 411.6,136.3 413.3,127.8 415.0,136.7 416.7,128.6 418.4,132.4 420.1,129.2 421.8,136.3 423.5,128.7 425.2,133.2 426.9,129.0 428.6,132.5 430.3,134.7 432.0,129.5 433.7,132.1 435.4,133.8 437.1,129.4 438.8,137.6 440.5,130.1 442.2,131.1 443.9,134.2 445.6,130.0 447.3,134.9 449.0,128.5 450.7,132.0 452.4,126.7 454.1,136.1 455.8,130.1 457.5,139.4 459.2,131.6 460.9,127.4 462.6,132.1 464.3,129.5 466.0,134.2 467.7,125.4 469.4,136.3 471.1,128.7 472.8,136.1 474.5,130.2" fill="none" stroke="#6a60d0" stroke-opacity="0.45" stroke-width="0.70"/></g>
<g font-family="Liberation Sans, sans-serif">
<text x="48.50" y="17.80" font-size="13.00" font-weight="bold" font-style="normal" text-anchor="start" fill="#000">A</text>
<text x="265.20" y="17.80" font-size="13.00" font-weight="bold" font-style="normal" text-anchor="start" fill="#000">A'</text>
<text x="48.50" y="124.70" font-size="13.00" font-weight="bold" font-style="normal" text-anchor="start" fill="#000">B</text>
<text x="264.40" y="124.90" font-size="13.00" font-weight="bold" font-style="normal" text-anchor="start" fill="#000">B'</text>
<text x="41.30" y="35.50" font-size="10.00" font-weight="normal" font-style="normal" text-anchor="end" fill="#222" stroke="#222" stroke-width="0.25">0.5</text>
<text x="41.30" y="105.50" font-size="10.00" font-weight="normal" font-style="normal" text-anchor="end" fill="#222" stroke="#222" stroke-width="0.25">0.0</text>
<text x="253.50" y="34.00" font-size="9.50" font-weight="normal" font-style="normal" text-anchor="end" fill="#222" stroke="#222" stroke-width="0.25">1</text>
<text x="253.50" y="104.80" font-size="9.50" font-weight="normal" font-style="normal" text-anchor="end" fill="#222" stroke="#222" stroke-width="0.25">0</text>
<text x="41.30" y="124.00" font-size="10.00" font-weight="normal" font-style="normal" text-anchor="end" fill="#222" stroke="#222" stroke-width="0.25">0.03</text>
<text x="41.30" y="145.20" font-size="10.00" font-weight="normal" font-style="normal" text-anchor="end" fill="#222" stroke="#222" stroke-width="0.25">-0.03</text>
<text x="249.00" y="123.40" font-size="9.50" font-weight="normal" font-style="normal" text-anchor="end" fill="#222" stroke="#222" stroke-width="0.25">0.06</text>
<text x="249.00" y="145.00" font-size="9.50" font-weight="normal" font-style="normal" text-anchor="end" fill="#222" stroke="#222" stroke-width="0.25">-0.06</text>
<text x="45.40" y="167.00" font-size="9.50" font-weight="normal" font-style="normal" text-anchor="middle" fill="#222" stroke="#222" stroke-width="0.25">6</text>
<text x="226.30" y="166.80" font-size="9.50" font-weight="normal" font-style="normal" text-anchor="middle" fill="#222" stroke="#222" stroke-width="0.25">7</text>
<text x="153.00" y="182.30" font-size="10.50" font-weight="bold" font-style="normal" text-anchor="middle" fill="#111">radius (cm)</text>
<text x="279.80" y="166.80" font-size="9.50" font-weight="normal" font-style="normal" text-anchor="middle" fill="#222" stroke="#222" stroke-width="0.25">6.40</text>
<text x="456.50" y="166.80" font-size="9.50" font-weight="normal" font-style="normal" text-anchor="middle" fill="#222" stroke="#222" stroke-width="0.25">6.95</text>
<text x="368.30" y="182.30" font-size="10.50" font-weight="bold" font-style="normal" text-anchor="middle" fill="#111">radius (cm)</text>
<text transform="translate(8.7,65) rotate(-90)" font-size="11" font-weight="bold" fill="#111"><tspan font-style="italic">A</tspan><tspan font-size="7" dy="3.7" dx="0.3">550</tspan></text>
<text transform="translate(12.7,131.8) rotate(-90)" font-size="11" font-weight="bold" fill="#111" text-anchor="middle">residuals</text>
</g>
<g fill="none" stroke="#8c8c8c" stroke-width="1">
<path d="M45.5,192.5H476.5V318.5H45.5"/>
<path d="M260.5,192.5V321"/>
<path d="M45.5,193H49.5M45.5,232.3H49.5M45.5,271.5H49.5M45.5,310.7H49.5"/>
<path d="M260.5,209.5H264.5M260.5,261.8H264.5"/>
<path d="M45.8,318.5V321.5M65.3,318.5V321.5M84.8,318.5V321.5M104.3,318.5V321.5M123.8,318.5V321.5M143.3,318.5V321.5M162.8,318.5V321.5M182.3,318.5V321.5M201.8,318.5V321.5M221.3,318.5V321.5M240.8,318.5V321.5"/>
<path d="M286.0,318.5V321.5M311.5,318.5V321.5M337.0,318.5V321.5M362.5,318.5V321.5M388.0,318.5V321.5M413.5,318.5V321.5M439.0,318.5V321.5M464.5,318.5V321.5"/>
</g>
<path d="M45.8,192.5V310.6" stroke="#000" stroke-width="1.4"/>
<path d="M43.5,193.0H45.5M43.5,200.9H45.5M43.5,208.8H45.5M43.5,216.6H45.5M43.5,224.5H45.5M43.5,232.4H45.5M43.5,240.3H45.5M43.5,248.2H45.5M43.5,256.0H45.5M43.5,263.9H45.5M43.5,271.8H45.5M43.5,279.7H45.5M43.5,287.6H45.5M43.5,295.4H45.5M43.5,303.3H45.5" stroke="#444" stroke-width="1" fill="none"/>
<path d="M55.00,310.60 55.50,310.60 56.00,310.60 56.50,310.60 57.00,310.60 57.50,310.60 58.00,310.60 58.50,310.60 59.00,310.60 59.50,310.60 60.00,310.60 60.50,310.60 61.00,310.60 61.50,310.60 62.00,310.60 62.50,310.60 63.00,310.60 63.50,310.59 64.00,310.57 64.50,310.48 65.00,310.24 65.50,309.61 66.00,308.16 66.50,305.22 67.00,300.00 67.50,291.93 68.00,281.15 68.50,269.04 69.00,258.12 69.50,251.30 70.00,250.64 70.50,256.34 71.00,266.67 71.50,278.77 72.00,289.96 72.50,298.63 73.00,304.38 73.50,307.71 74.00,309.40 74.50,310.15 75.00,310.45 75.50,310.56 76.00,310.59 76.50,310.60 77.00,310.60 77.50,310.60 78.00,310.60 78.50,310.60 79.00,310.60 79.50,310.60 80.00,310.60 80.50,310.60 81.00,310.60 81.50,310.60 82.00,310.60 82.50,310.60 83.00,310.60 83.50,310.60 84.00,310.60 84.50,310.60 85.00,310.60 85.50,310.60 86.00,310.60 86.50,310.60 87.00,310.60 87.50,310.60 88.00,310.60 88.50,310.60 89.00,310.60 89.50,310.60 90.00,310.60 90.50,310.60 91.00,310.60 91.50,310.60 92.00,310.60 92.50,310.60 93.00,310.60 93.50,310.60 94.00,310.60 94.50,310.60 95.00,310.60 95.50,310.60 96.00,310.60 96.50,310.60 97.00,310.60 97.50,310.60 98.00,310.60 98.50,310.60 99.00,310.60 99.50,310.60 100.00,310.60 100.50,310.60 101.00,310.60 101.50,310.60 102.00,310.60 102.50,310.60 103.00,310.60 103.50,310.60 104.00,310.60 104.50,310.60 105.00,310.60 105.50,310.60 106.00,310.60 106.50,310.60 107.00,310.60 107.50,310.60 108.00,310.60 108.50,310.60 109.00,310.60 109.50,310.60 110.00,310.60 110.50,310.60 111.00,310.60 111.50,310.60 112.00,310.60 112.50,310.60 113.00,310.60 113.50,310.59 114.00,310.58 114.50,310.54 115.00,310.45 115.50,310.23 116.00,309.77 116.50,308.86 117.00,307.16 117.50,304.22 118.00,299.46 118.50,292.36 119.00,282.52 119.50,270.00 120.00,255.45 120.50,240.22 121.00,226.24 121.50,215.60 122.00,210.10 122.50,210.73 123.00,217.37 123.50,228.83 124.00,243.24 124.50,258.46 125.00,272.69 125.50,284.71 126.00,293.99 126.50,300.59 127.00,304.93 127.50,307.58 128.00,309.09 128.50,309.89 129.00,310.29 129.50,310.47 130.00,310.55 130.50,310.58 131.00,310.59 131.50,310.60 132.00,310.60 132.50,310.60 133.00,310.60 133.50,310.60 134.00,310.60 134.50,310.60 135.00,310.60 135.50,310.60 136.00,310.60 136.50,310.60 137.00,310.60 137.50,310.60 138.00,310.60 138.50,310.60 139.00,310.60 139.50,310.60 140.00,310.60" fill="none" stroke="#000" stroke-width="1.2"/>
<path d="M110.00,310.60 110.50,310.60 111.00,310.60 111.50,310.60 112.00,310.60 112.50,310.60 113.00,310.60 113.50,310.60 114.00,310.59 114.50,310.57 115.00,310.51 115.50,310.39 116.00,310.13 116.50,309.59 117.00,308.58 117.50,306.81 118.00,303.91 118.50,299.50 119.00,293.30 119.50,285.27 120.00,275.76 120.50,265.58 121.00,255.95 121.50,248.29 122.00,243.86 122.50,243.44 123.00,247.11 123.50,254.22 124.00,263.57 124.50,273.74 125.00,283.46 125.50,291.83 126.00,298.41 126.50,303.16 127.00,306.33 127.50,308.30 128.00,309.44 128.50,310.05 129.00,310.35 129.50,310.50 130.00,310.56 130.50,310.58 131.00,310.59 131.50,310.60 132.00,310.60 132.50,310.60 133.00,310.60 133.50,310.60 134.00,310.60 134.50,310.60 135.00,310.60" fill="none" stroke="#2828c8" stroke-width="1.2"/>
<path d="M110.00,310.60 110.50,310.60 111.00,310.60 111.50,310.60 112.00,310.60 112.50,310.60 113.00,310.60 113.50,310.60 114.00,310.60 114.50,310.60 115.00,310.59 115.50,310.57 116.00,310.52 116.50,310.41 117.00,310.17 117.50,309.68 118.00,308.77 118.50,307.21 119.00,304.74 119.50,301.16 120.00,296.39 120.50,290.65 121.00,284.46 121.50,278.65 122.00,274.16 122.50,271.82 123.00,272.08 123.50,274.91 124.00,279.74 124.50,285.70 125.00,291.86 125.50,297.43 126.00,301.97 126.50,305.32 127.00,307.59 127.50,309.00 128.00,309.80 128.50,310.23 129.00,310.44 129.50,310.54 130.00,310.58 130.50,310.59 131.00,310.60 131.50,310.60 132.00,310.60 132.50,310.60 133.00,310.60 133.50,310.60 134.00,310.60 134.50,310.60 135.00,310.60" fill="none" stroke="#e03030" stroke-width="1.2"/>
<path d="M45.8,310.6H260" stroke="#4a30a0" stroke-width="1.6"/>
<path d="M261,312.5H476" stroke="#6a4848" stroke-width="1.5"/>
<path d="M261.00,312.60 261.50,312.60 262.00,312.60 262.50,312.60 263.00,312.60 263.50,312.60 264.00,312.60 264.50,312.60 265.00,312.60 265.50,312.60 266.00,312.60 266.50,312.60 267.00,312.60 267.50,312.60 268.00,312.60 268.50,312.60 269.00,312.60 269.50,312.60 270.00,312.60 270.50,312.60 271.00,312.60 271.50,312.60 272.00,312.60 272.50,312.60 273.00,312.60 273.50,312.60 274.00,312.60 274.50,312.60 275.00,312.60 275.50,312.60 276.00,312.60 276.50,312.60 277.00,312.60 277.50,312.60 278.00,312.60 278.50,312.60 279.00,312.60 279.50,312.60 280.00,312.60 280.50,312.60 281.00,312.60 281.50,312.60 282.00,312.60 282.50,312.60 283.00,312.60 283.50,312.60 284.00,312.60 284.50,312.60 285.00,312.60 285.50,312.60 286.00,312.60 286.50,312.60 287.00,312.60 287.50,312.60 288.00,312.60 288.50,312.60 289.00,312.60 289.50,312.60 290.00,312.60 290.50,312.60 291.00,312.60 291.50,312.60 292.00,312.60 292.50,312.60 293.00,312.60 293.50,312.60 294.00,312.60 294.50,312.60 295.00,312.60 295.50,312.60 296.00,312.60 296.50,312.60 297.00,312.60 297.50,312.60 298.00,312.60 298.50,312.60 299.00,312.60 299.50,312.60 300.00,312.60 300.50,312.60 301.00,312.60 301.50,312.60 302.00,312.60 302.50,312.60 303.00,312.60 303.50,312.60 304.00,312.60 304.50,312.60 305.00,312.60 305.50,312.60 306.00,312.60 306.50,312.60 307.00,312.60 307.50,312.60 308.00,312.60 308.50,312.60 309.00,312.60 309.50,312.60 310.00,312.60 310.50,312.60 311.00,312.60 311.50,312.60 312.00,312.60 312.50,312.60 313.00,312.60 313.50,312.60 314.00,312.60 314.50,312.60 315.00,312.60 315.50,312.60 316.00,312.60 316.50,312.60 317.00,312.60 317.50,312.60 318.00,312.60 318.50,312.60 319.00,312.60 319.50,312.60 320.00,312.60 320.50,312.59 321.00,312.58 321.50,312.56 322.00,312.50 322.50,312.37 323.00,312.10 323.50,311.56 324.00,310.56 324.50,308.81 325.00,305.95 325.50,301.59 326.00,295.37 326.50,287.12 327.00,277.00 327.50,265.59 328.00,253.94 328.50,243.44 329.00,235.53 329.50,231.43 330.00,231.24 330.50,232.82 331.00,235.81 331.50,240.04 332.00,245.28 332.50,251.25 333.00,257.67 333.50,264.26 334.00,270.76 334.50,276.97 335.00,282.73 335.50,287.93 336.00,292.52 336.50,296.45 337.00,299.73 337.50,302.40 338.00,304.54 338.50,306.21 339.00,307.50 339.50,308.49 340.00,309.24 340.50,309.81 341.00,310.24 341.50,310.58 342.00,310.85 342.50,311.06 343.00,311.25 343.50,311.40 344.00,311.54 344.50,311.67 345.00,311.78 345.50,311.88 346.00,311.97 346.50,312.06 347.00,312.13 347.50,312.20 348.00,312.25 348.50,312.30 349.00,312.35 349.50,312.38 350.00,312.40 350.50,312.42 351.00,312.43 351.50,312.42 352.00,312.41 352.50,312.38 353.00,312.33 353.50,312.27 354.00,312.19 354.50,312.09 355.00,311.96 355.50,311.80 356.00,311.62 356.50,311.40 357.00,311.15 357.50,310.87 358.00,310.55 358.50,310.21 359.00,309.85 359.50,309.47 360.00,309.08 360.50,308.69 361.00,308.31 361.50,307.96 362.00,307.63 362.50,307.35 363.00,307.11 363.50,306.94 364.00,306.84 364.50,306.80 365.00,306.82 365.50,306.90 366.00,307.01 366.50,307.17 367.00,307.37 367.50,307.60 368.00,307.86 368.50,308.15 369.00,308.45 369.50,308.76 370.00,309.08 370.50,309.40 371.00,309.72 371.50,310.02 372.00,310.31 372.50,310.59 373.00,310.84 373.50,311.08 374.00,311.30 374.50,311.49 375.00,311.66 375.50,311.82 376.00,311.95 376.50,312.06 377.00,312.16 377.50,312.24 378.00,312.31 378.50,312.37 379.00,312.42 379.50,312.46 380.00,312.49 380.50,312.52 381.00,312.54 381.50,312.55 382.00,312.56 382.50,312.57 383.00,312.58 383.50,312.59 384.00,312.59 384.50,312.59 385.00,312.59 385.50,312.60 386.00,312.60 386.50,312.60 387.00,312.60 387.50,312.60 388.00,312.60 388.50,312.60 389.00,312.60 389.50,312.60 390.00,312.60 390.50,312.60 391.00,312.60 391.50,312.60 392.00,312.60 392.50,312.60 393.00,312.59 393.50,312.59 394.00,312.59 394.50,312.59 395.00,312.59 395.50,312.58 396.00,312.58 396.50,312.58 397.00,312.57 397.50,312.57 398.00,312.56 398.50,312.55 399.00,312.55 399.50,312.54 400.00,312.53 400.50,312.52 401.00,312.50 401.50,312.49 402.00,312.47 402.50,312.46 403.00,312.44 403.50,312.42 404.00,312.39 404.50,312.37 405.00,312.34 405.50,312.31 406.00,312.28 406.50,312.25 407.00,312.21 407.50,312.17 408.00,312.13 408.50,312.09 409.00,312.05 409.50,312.01 410.00,311.96 410.50,311.92 411.00,311.87 411.50,311.83 412.00,311.78 412.50,311.74 413.00,311.69 413.50,311.65 414.00,311.61 414.50,311.58 415.00,311.54 415.50,311.51 416.00,311.48 416.50,311.46 417.00,311.44 417.50,311.42 418.00,311.41 418.50,311.40 419.00,311.40 419.50,311.40 420.00,311.41 420.50,311.42 421.00,311.44 421.50,311.46 422.00,311.48 422.50,311.51 423.00,311.54 423.50,311.58 424.00,311.61 424.50,311.65 425.00,311.69 425.50,311.74 426.00,311.78 426.50,311.83 427.00,311.87 427.50,311.92 428.00,311.96 428.50,312.01 429.00,312.05 429.50,312.09 430.00,312.13 430.50,312.17 431.00,312.21 431.50,312.25 432.00,312.28 432.50,312.31 433.00,312.34 433.50,312.37 434.00,312.39 434.50,312.42 435.00,312.44 435.50,312.46 436.00,312.47 436.50,312.49 437.00,312.50 437.50,312.52 438.00,312.53 438.50,312.54 439.00,312.55 439.50,312.55 440.00,312.56 440.50,312.57 441.00,312.57 441.50,312.58 442.00,312.58 442.50,312.58 443.00,312.59 443.50,312.59 444.00,312.59 444.50,312.59 445.00,312.59 445.50,312.60 446.00,312.60 446.50,312.60 447.00,312.60 447.50,312.60 448.00,312.60 448.50,312.60 449.00,312.60 449.50,312.60 450.00,312.60 450.50,312.60 451.00,312.60 451.50,312.60 452.00,312.60 452.50,312.60 453.00,312.60 453.50,312.60 454.00,312.60 454.50,312.60 455.00,312.60 455.50,312.60 456.00,312.60 456.50,312.60 457.00,312.60 457.50,312.60 458.00,312.60 458.50,312.60 459.00,312.60 459.50,312.60 460.00,312.60 460.50,312.60 461.00,312.60 461.50,312.60 462.00,312.60 462.50,312.60 463.00,312.60 463.50,312.60 464.00,312.60 464.50,312.60 465.00,312.60 465.50,312.60 466.00,312.60 466.50,312.60 467.00,312.60 467.50,312.60 468.00,312.60 468.50,312.60 469.00,312.60 469.50,312.60 470.00,312.60 470.50,312.60 471.00,312.60 471.50,312.60 472.00,312.60 472.50,312.60 473.00,312.60 473.50,312.60 474.00,312.60 474.50,312.60 475.00,312.60 475.50,312.60 476.00,312.60" fill="none" stroke="#3030c0" stroke-width="1.15"/>
<path d="M261.00,312.60 261.50,312.60 262.00,312.60 262.50,312.60 263.00,312.60 263.50,312.60 264.00,312.60 264.50,312.60 265.00,312.60 265.50,312.60 266.00,312.60 266.50,312.60 267.00,312.60 267.50,312.60 268.00,312.60 268.50,312.60 269.00,312.60 269.50,312.60 270.00,312.60 270.50,312.60 271.00,312.60 271.50,312.60 272.00,312.60 272.50,312.60 273.00,312.60 273.50,312.60 274.00,312.60 274.50,312.60 275.00,312.60 275.50,312.60 276.00,312.60 276.50,312.60 277.00,312.60 277.50,312.60 278.00,312.60 278.50,312.60 279.00,312.60 279.50,312.60 280.00,312.60 280.50,312.60 281.00,312.60 281.50,312.60 282.00,312.60 282.50,312.60 283.00,312.60 283.50,312.60 284.00,312.60 284.50,312.60 285.00,312.60 285.50,312.60 286.00,312.60 286.50,312.60 287.00,312.60 287.50,312.60 288.00,312.60 288.50,312.60 289.00,312.60 289.50,312.60 290.00,312.60 290.50,312.60 291.00,312.60 291.50,312.60 292.00,312.60 292.50,312.60 293.00,312.60 293.50,312.60 294.00,312.60 294.50,312.60 295.00,312.60 295.50,312.60 296.00,312.60 296.50,312.60 297.00,312.60 297.50,312.60 298.00,312.60 298.50,312.60 299.00,312.60 299.50,312.60 300.00,312.60 300.50,312.60 301.00,312.60 301.50,312.60 302.00,312.60 302.50,312.60 303.00,312.60 303.50,312.60 304.00,312.60 304.50,312.60 305.00,312.60 305.50,312.60 306.00,312.60 306.50,312.60 307.00,312.60 307.50,312.60 308.00,312.60 308.50,312.60 309.00,312.60 309.50,312.60 310.00,312.60 310.50,312.60 311.00,312.60 311.50,312.60 312.00,312.60 312.50,312.60 313.00,312.60 313.50,312.60 314.00,312.60 314.50,312.60 315.00,312.60 315.50,312.60 316.00,312.60 316.50,312.60 317.00,312.60 317.50,312.60 318.00,312.60 318.50,312.60 319.00,312.60 319.50,312.60 320.00,312.60 320.50,312.60 321.00,312.59 321.50,312.58 322.00,312.55 322.50,312.47 323.00,312.29 323.50,311.91 324.00,311.15 324.50,309.75 325.00,307.34 325.50,303.53 326.00,297.95 326.50,290.43 327.00,281.18 327.50,270.90 328.00,260.77 328.50,252.27 329.00,246.82 329.50,245.35 330.00,246.35 330.50,248.87 331.00,252.74 331.50,257.68 332.00,263.38 332.50,269.49 333.00,275.70 333.50,281.72 334.00,287.33 334.50,292.35 335.00,296.68 335.50,300.31 336.00,303.25 336.50,305.58 337.00,307.37 337.50,308.71 338.00,309.71 338.50,310.43 339.00,310.95 339.50,311.32 340.00,311.59 340.50,311.79 341.00,311.94 341.50,312.06 342.00,312.15 342.50,312.23 343.00,312.30 343.50,312.35 344.00,312.39 344.50,312.43 345.00,312.47 345.50,312.49 346.00,312.51 346.50,312.53 347.00,312.55 347.50,312.56 348.00,312.57 348.50,312.57 349.00,312.57 349.50,312.57 350.00,312.57 350.50,312.56 351.00,312.55 351.50,312.53 352.00,312.51 352.50,312.48 353.00,312.43 353.50,312.38 354.00,312.32 354.50,312.24 355.00,312.14 355.50,312.02 356.00,311.88 356.50,311.71 357.00,311.53 357.50,311.32 358.00,311.09 358.50,310.83 359.00,310.56 359.50,310.28 360.00,309.99 360.50,309.70 361.00,309.42 361.50,309.16 362.00,308.91 362.50,308.70 363.00,308.53 363.50,308.40 364.00,308.33 364.50,308.30 365.00,308.32 365.50,308.39 366.00,308.49 366.50,308.63 367.00,308.81 367.50,309.01 368.00,309.23 368.50,309.48 369.00,309.73 369.50,309.99 370.00,310.25 370.50,310.51 371.00,310.75 371.50,310.99 372.00,311.20 372.50,311.40 373.00,311.59 373.50,311.75 374.00,311.89 374.50,312.02 375.00,312.13 375.50,312.22 376.00,312.29 376.50,312.36 377.00,312.41 377.50,312.45 378.00,312.49 378.50,312.51 379.00,312.54 379.50,312.55 380.00,312.56 380.50,312.57 381.00,312.58 381.50,312.59 382.00,312.59 382.50,312.59 383.00,312.60 383.50,312.60 384.00,312.60 384.50,312.60 385.00,312.60 385.50,312.60 386.00,312.60 386.50,312.60 387.00,312.60 387.50,312.60 388.00,312.60 388.50,312.60 389.00,312.60 389.50,312.60 390.00,312.60 390.50,312.60 391.00,312.60 391.50,312.60 392.00,312.60 392.50,312.60 393.00,312.59 393.50,312.59 394.00,312.59 394.50,312.59 395.00,312.59 395.50,312.59 396.00,312.58 396.50,312.58 397.00,312.58 397.50,312.57 398.00,312.57 398.50,312.56 399.00,312.56 399.50,312.55 400.00,312.54 400.50,312.53 401.00,312.52 401.50,312.51 402.00,312.50 402.50,312.48 403.00,312.46 403.50,312.45 404.00,312.43 404.50,312.41 405.00,312.38 405.50,312.36 406.00,312.33 406.50,312.30 407.00,312.28 407.50,312.24 408.00,312.21 408.50,312.18 409.00,312.14 409.50,312.11 410.00,312.07 410.50,312.03 411.00,311.99 411.50,311.96 412.00,311.92 412.50,311.88 413.00,311.85 413.50,311.81 414.00,311.78 414.50,311.75 415.00,311.72 415.50,311.69 416.00,311.67 416.50,311.65 417.00,311.63 417.50,311.62 418.00,311.61 418.50,311.60 419.00,311.60 419.50,311.60 420.00,311.61 420.50,311.62 421.00,311.63 421.50,311.65 422.00,311.67 422.50,311.69 423.00,311.72 423.50,311.75 424.00,311.78 424.50,311.81 425.00,311.85 425.50,311.88 426.00,311.92 426.50,311.96 427.00,311.99 427.50,312.03 428.00,312.07 428.50,312.11 429.00,312.14 429.50,312.18 430.00,312.21 430.50,312.24 431.00,312.28 431.50,312.30 432.00,312.33 432.50,312.36 433.00,312.38 433.50,312.41 434.00,312.43 434.50,312.45 435.00,312.46 435.50,312.48 436.00,312.50 436.50,312.51 437.00,312.52 437.50,312.53 438.00,312.54 438.50,312.55 439.00,312.56 439.50,312.56 440.00,312.57 440.50,312.57 441.00,312.58 441.50,312.58 442.00,312.58 442.50,312.59 443.00,312.59 443.50,312.59 444.00,312.59 444.50,312.59 445.00,312.59 445.50,312.60 446.00,312.60 446.50,312.60 447.00,312.60 447.50,312.60 448.00,312.60 448.50,312.60 449.00,312.60 449.50,312.60 450.00,312.60 450.50,312.60 451.00,312.60 451.50,312.60 452.00,312.60 452.50,312.60 453.00,312.60 453.50,312.60 454.00,312.60 454.50,312.60 455.00,312.60 455.50,312.60 456.00,312.60 456.50,312.60 457.00,312.60 457.50,312.60 458.00,312.60 458.50,312.60 459.00,312.60 459.50,312.60 460.00,312.60 460.50,312.60 461.00,312.60 461.50,312.60 462.00,312.60 462.50,312.60 463.00,312.60 463.50,312.60 464.00,312.60 464.50,312.60 465.00,312.60 465.50,312.60 466.00,312.60 466.50,312.60 467.00,312.60 467.50,312.60 468.00,312.60 468.50,312.60 469.00,312.60 469.50,312.60 470.00,312.60 470.50,312.60 471.00,312.60 471.50,312.60 472.00,312.60 472.50,312.60 473.00,312.60 473.50,312.60 474.00,312.60 474.50,312.60 475.00,312.60 475.50,312.60 476.00,312.60" fill="none" stroke="#e03030" stroke-width="1.15"/>
<path d="M280.00,312.60 280.50,312.60 281.00,312.60 281.50,312.58 282.00,312.54 282.50,312.42 283.00,312.12 283.50,311.45 284.00,310.13 284.50,307.85 285.00,304.41 285.50,299.97 286.00,295.17 286.50,291.08 287.00,288.81 287.50,288.84 288.00,290.28 288.50,292.78 289.00,295.98 289.50,299.43 290.00,302.73 290.50,305.62 291.00,307.93 291.50,309.65 292.00,310.84 292.50,311.61 293.00,312.07 293.50,312.33 294.00,312.47 294.50,312.54 295.00,312.58 295.50,312.59 296.00,312.60 296.50,312.60 297.00,312.60 297.50,312.60 298.00,312.60 298.50,312.60 299.00,312.60 299.50,312.60 300.00,312.60 300.50,312.60 301.00,312.60 301.50,312.60 302.00,312.60 302.50,312.60 303.00,312.60 303.50,312.60 304.00,312.60 304.50,312.60 305.00,312.60 305.50,312.60 306.00,312.60 306.50,312.60 307.00,312.60 307.50,312.60 308.00,312.60 308.50,312.60 309.00,312.60 309.50,312.60 310.00,312.60 310.50,312.60 311.00,312.60 311.50,312.60 312.00,312.60 312.50,312.60 313.00,312.60 313.50,312.60 314.00,312.60 314.50,312.60 315.00,312.60 315.50,312.60 316.00,312.60 316.50,312.60 317.00,312.60 317.50,312.60 318.00,312.60 318.50,312.60 319.00,312.60 319.50,312.60 320.00,312.59 320.50,312.59 321.00,312.57 321.50,312.53 322.00,312.45 322.50,312.29 323.00,312.01 323.50,311.49 324.00,310.63 324.50,309.21 325.00,307.01 325.50,303.75 326.00,299.13 326.50,292.90 327.00,284.92 327.50,275.24 328.00,264.13 328.50,252.20 329.00,240.26 329.50,229.36 330.00,220.55 330.50,214.78 331.00,212.69 331.50,213.50 332.00,216.12 332.50,220.40 333.00,226.10 333.50,232.90 334.00,240.47 334.50,248.45 335.00,256.53 335.50,264.40 336.00,271.84 336.50,278.67 337.00,284.79 337.50,290.12 338.00,294.62 338.50,298.33 339.00,301.34 339.50,303.72 340.00,305.58 340.50,307.01 341.00,308.10 341.50,308.92 342.00,309.55 342.50,310.02 343.00,310.40 343.50,310.69 344.00,310.93 344.50,311.14 345.00,311.31 345.50,311.47 346.00,311.61 346.50,311.73 347.00,311.85 347.50,311.95 348.00,312.04 348.50,312.12 349.00,312.19 349.50,312.25 350.00,312.30 350.50,312.35 351.00,312.38 351.50,312.40 352.00,312.41 352.50,312.41 353.00,312.39 353.50,312.35 354.00,312.29 354.50,312.19 355.00,312.07 355.50,311.90 356.00,311.69 356.50,311.42 357.00,311.11 357.50,310.74 358.00,310.32 358.50,309.85 359.00,309.35 359.50,308.82 360.00,308.28 360.50,307.75 361.00,307.23 361.50,306.76 362.00,306.33 362.50,305.96 363.00,305.65 363.50,305.40 364.00,305.22 364.50,305.09 365.00,305.01 365.50,304.96 366.00,304.94 366.50,304.94 367.00,304.96 367.50,305.01 368.00,305.09 368.50,305.22 369.00,305.40 369.50,305.65 370.00,305.95 370.50,306.29 371.00,306.67 371.50,307.08 372.00,307.53 372.50,308.00 373.00,308.48 373.50,308.96 374.00,309.42 374.50,309.87 375.00,310.29 375.50,310.67 376.00,311.02 376.50,311.32 377.00,311.58 377.50,311.80 378.00,311.98 378.50,312.13 379.00,312.25 379.50,312.34 380.00,312.41 380.50,312.47 381.00,312.51 381.50,312.53 382.00,312.56 382.50,312.57 383.00,312.58 383.50,312.59 384.00,312.59 384.50,312.59 385.00,312.60 385.50,312.60 386.00,312.60 386.50,312.60 387.00,312.60 387.50,312.60 388.00,312.60 388.50,312.60 389.00,312.60 389.50,312.60 390.00,312.60 390.50,312.60 391.00,312.60 391.50,312.60 392.00,312.59 392.50,312.59 393.00,312.59 393.50,312.59 394.00,312.59 394.50,312.59 395.00,312.58 395.50,312.58 396.00,312.58 396.50,312.57 397.00,312.57 397.50,312.56 398.00,312.55 398.50,312.54 399.00,312.53 399.50,312.52 400.00,312.51 400.50,312.50 401.00,312.48 401.50,312.46 402.00,312.44 402.50,312.42 403.00,312.40 403.50,312.37 404.00,312.34 404.50,312.31 405.00,312.28 405.50,312.24 406.00,312.20 406.50,312.16 407.00,312.11 407.50,312.07 408.00,312.02 408.50,311.97 409.00,311.91 409.50,311.86 410.00,311.80 410.50,311.75 411.00,311.69 411.50,311.63 412.00,311.58 412.50,311.52 413.00,311.47 413.50,311.42 414.00,311.37 414.50,311.32 415.00,311.28 415.50,311.24 416.00,311.20 416.50,311.17 417.00,311.15 417.50,311.13 418.00,311.11 418.50,311.10 419.00,311.10 419.50,311.10 420.00,311.11 420.50,311.13 421.00,311.15 421.50,311.17 422.00,311.20 422.50,311.24 423.00,311.28 423.50,311.32 424.00,311.37 424.50,311.42 425.00,311.47 425.50,311.52 426.00,311.58 426.50,311.63 427.00,311.69 427.50,311.75 428.00,311.80 428.50,311.86 429.00,311.91 429.50,311.97 430.00,312.02 430.50,312.07 431.00,312.11 431.50,312.16 432.00,312.20 432.50,312.24 433.00,312.28 433.50,312.31 434.00,312.34 434.50,312.37 435.00,312.40 435.50,312.42 436.00,312.44 436.50,312.46 437.00,312.48 437.50,312.50 438.00,312.51 438.50,312.52 439.00,312.53 439.50,312.54 440.00,312.55 440.50,312.56 441.00,312.57 441.50,312.57 442.00,312.58 442.50,312.58 443.00,312.58 443.50,312.59 444.00,312.59 444.50,312.59 445.00,312.59 445.50,312.59 446.00,312.59 446.50,312.60 447.00,312.60 447.50,312.60 448.00,312.60 448.50,312.60 449.00,312.60 449.50,312.60 450.00,312.60 450.50,312.60 451.00,312.60 451.50,312.60 452.00,312.60 452.50,312.60 453.00,312.60 453.50,312.60 454.00,312.60 454.50,312.60 455.00,312.60 455.50,312.60 456.00,312.60 456.50,312.60 457.00,312.60 457.50,312.60 458.00,312.60 458.50,312.60 459.00,312.60 459.50,312.60 460.00,312.60 460.50,312.60 461.00,312.60 461.50,312.60 462.00,312.60 462.50,312.60 463.00,312.60 463.50,312.60 464.00,312.60 464.50,312.60 465.00,312.60 465.50,312.60 466.00,312.60 466.50,312.60 467.00,312.60 467.50,312.60 468.00,312.60 468.50,312.60 469.00,312.60 469.50,312.60 470.00,312.60 470.50,312.60 471.00,312.60 471.50,312.60 472.00,312.60 472.50,312.60 473.00,312.60 473.50,312.60 474.00,312.60 474.50,312.60 475.00,312.60 475.50,312.60 476.00,312.60" fill="none" stroke="#000" stroke-width="1.15"/>
<path d="M261,312.6H283M292.5,312.6H321" stroke="#5a3838" stroke-width="1.4"/>
<path d="M283,312.6H292.5" stroke="#5030b0" stroke-width="1.3"/>
<g font-family="Liberation Sans, sans-serif">
<text x="48.30" y="210.00" font-size="12.50" font-weight="bold" font-style="normal" text-anchor="start" fill="#000">C</text>
<text x="265.00" y="209.50" font-size="12.50" font-weight="bold" font-style="normal" text-anchor="start" fill="#000">C'</text>
<text x="41.30" y="196.40" font-size="10.00" font-weight="normal" font-style="normal" text-anchor="end" fill="#222" stroke="#222" stroke-width="0.25">15</text>
<text x="41.30" y="236.20" font-size="10.00" font-weight="normal" font-style="normal" text-anchor="end" fill="#222" stroke="#222" stroke-width="0.25">10</text>
<text x="41.30" y="274.90" font-size="10.00" font-weight="normal" font-style="normal" text-anchor="end" fill="#222" stroke="#222" stroke-width="0.25">5</text>
<text x="41.30" y="313.80" font-size="10.00" font-weight="normal" font-style="normal" text-anchor="end" fill="#222" stroke="#222" stroke-width="0.25">0</text>
<text x="253.50" y="213.40" font-size="10.00" font-weight="normal" font-style="normal" text-anchor="end" fill="#222" stroke="#222" stroke-width="0.25">6</text>
<text x="253.50" y="264.50" font-size="10.00" font-weight="normal" font-style="normal" text-anchor="end" fill="#222" stroke="#222" stroke-width="0.25">3</text>
<text x="253.50" y="314.90" font-size="10.00" font-weight="normal" font-style="normal" text-anchor="end" fill="#222" stroke="#222" stroke-width="0.25">0</text>
<text x="45.80" y="333.20" font-size="10.00" font-weight="normal" font-style="normal" text-anchor="middle" fill="#222" stroke="#222" stroke-width="0.25">1</text>
<text x="84.80" y="333.20" font-size="10.00" font-weight="normal" font-style="normal" text-anchor="middle" fill="#222" stroke="#222" stroke-width="0.25">2</text>
<text x="123.80" y="333.20" font-size="10.00" font-weight="normal" font-style="normal" text-anchor="middle" fill="#222" stroke="#222" stroke-width="0.25">3</text>
<text x="162.80" y="333.20" font-size="10.00" font-weight="normal" font-style="normal" text-anchor="middle" fill="#222" stroke="#222" stroke-width="0.25">4</text>
<text x="201.80" y="333.20" font-size="10.00" font-weight="normal" font-style="normal" text-anchor="middle" fill="#222" stroke="#222" stroke-width="0.25">5</text>
<text x="240.80" y="333.20" font-size="10.00" font-weight="normal" font-style="normal" text-anchor="middle" fill="#222" stroke="#222" stroke-width="0.25">6</text>
<text x="286.00" y="333.20" font-size="10.00" font-weight="normal" font-style="normal" text-anchor="middle" fill="#222" stroke="#222" stroke-width="0.25">2</text>
<text x="337.00" y="333.20" font-size="10.00" font-weight="normal" font-style="normal" text-anchor="middle" fill="#222" stroke="#222" stroke-width="0.25">4</text>
<text x="388.00" y="333.20" font-size="10.00" font-weight="normal" font-style="normal" text-anchor="middle" fill="#222" stroke="#222" stroke-width="0.25">6</text>
<text x="439.00" y="333.20" font-size="10.00" font-weight="normal" font-style="normal" text-anchor="middle" fill="#222" stroke="#222" stroke-width="0.25">8</text>
<text x="153" y="348.2" font-size="10.5" font-weight="bold" text-anchor="middle" fill="#111"><tspan font-style="italic">s</tspan> (S)</text>
<text x="368.7" y="348.2" font-size="10.5" font-weight="bold" text-anchor="middle" fill="#111"><tspan font-style="italic">s</tspan> (S)</text>
<text transform="translate(10.6,256.2) rotate(-90)" font-size="11" font-weight="bold" text-anchor="middle" fill="#111"><tspan font-style="italic">c</tspan>(<tspan font-style="italic">s</tspan>)</text>
<text x="191.20" y="217.10" font-size="11.00" font-weight="normal" font-style="normal" text-anchor="middle" fill="#111" stroke="#111" stroke-width="0.25">BR/HAPol</text>
<text x="406.50" y="216.40" font-size="11.00" font-weight="normal" font-style="normal" text-anchor="middle" fill="#111" stroke="#111" stroke-width="0.25">BR/DAPol</text>
</g>
<path d="M155.9,239.7H187.7" stroke="#000" stroke-width="1.3"/>
<path d="M155.9,256.8H184.8" stroke="#e03030" stroke-width="1.3"/>
<path d="M155.9,274.4H184.8" stroke="#3030b0" stroke-width="1.3"/>
<path d="M369.9,239.7H402.7" stroke="#000" stroke-width="1.3"/>
<path d="M369.9,256.8H399.8" stroke="#e03030" stroke-width="1.3"/>
<path d="M369.9,274.2H399.8" stroke="#3030b0" stroke-width="1.3"/>
<g font-family="Liberation Sans, sans-serif">
<text x="191.60" y="243.40" font-size="10.00" font-weight="normal" font-style="normal" text-anchor="start" fill="#000" stroke="#000" stroke-width="0.25">J</text>
<text x="191.60" y="260.60" font-size="9.80" font-weight="normal" font-style="normal" text-anchor="start" fill="#e02828" stroke="#e02828" stroke-width="0.25">550 nm</text>
<text x="191.60" y="277.90" font-size="9.80" font-weight="normal" font-style="normal" text-anchor="start" fill="#2828c0" stroke="#2828c0" stroke-width="0.25">280 nm</text>
<text x="406.70" y="243.30" font-size="10.00" font-weight="normal" font-style="normal" text-anchor="start" fill="#000" stroke="#000" stroke-width="0.25">J</text>
<text x="406.70" y="260.60" font-size="9.80" font-weight="normal" font-style="normal" text-anchor="start" fill="#e02828" stroke="#e02828" stroke-width="0.25">555 nm</text>
<text x="406.70" y="277.90" font-size="9.80" font-weight="normal" font-style="normal" text-anchor="start" fill="#2828c0" stroke="#2828c0" stroke-width="0.25">280 nm</text>
</g>
</svg>
</body></html>
